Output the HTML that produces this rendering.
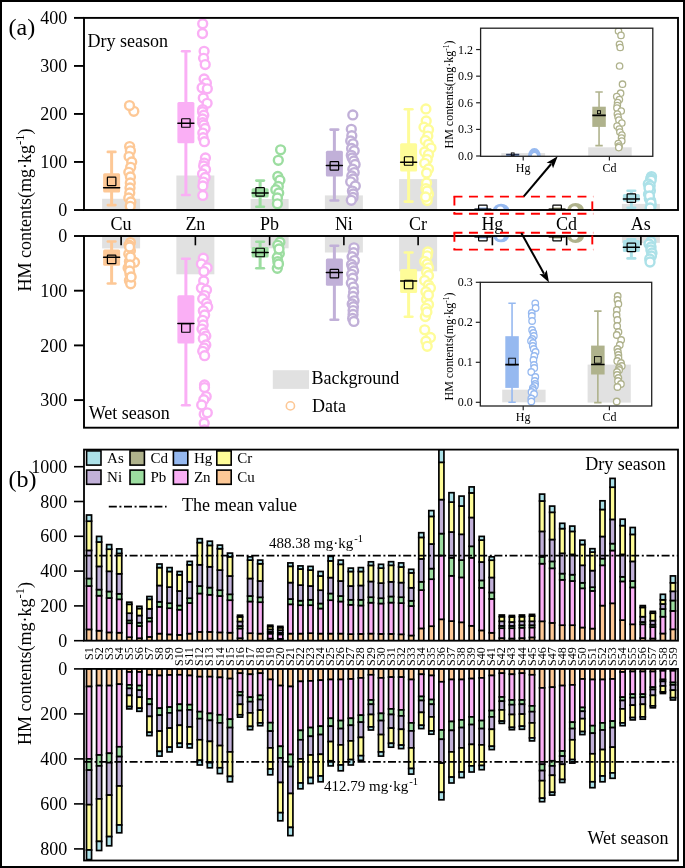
<!DOCTYPE html>
<html><head><meta charset="utf-8"><style>
html,body{margin:0;padding:0;background:#fff;}
svg{display:block;will-change:transform;}
text{font-family:"Liberation Serif",serif;fill:#000;}
</style></head><body>
<svg width="685" height="868" viewBox="0 0 685 868">
<rect width="685" height="868" fill="#fff"/>
<defs>
<clipPath id="cd"><rect x="84" y="17.9" width="594" height="192.1"/></clipPath>
<clipPath id="cw"><rect x="84" y="236.0" width="594" height="191.7"/></clipPath>
<clipPath id="ci1"><rect x="480.6" y="28.2" width="172.2" height="128.1"/></clipPath>
<clipPath id="ci2"><rect x="480.3" y="282.3" width="171.4" height="123.7"/></clipPath>
<clipPath id="cb1"><rect x="84" y="449.6" width="594" height="191.1"/></clipPath>
<clipPath id="cb2"><rect x="84" y="668.9" width="594" height="191.6"/></clipPath>
</defs>
<rect x="1" y="1" width="683" height="866" fill="none" stroke="#000" stroke-width="2"/>
<g clip-path="url(#cd)">
<rect x="102.12" y="198.80" width="38" height="11.20" fill="#E1E1E1"/>
<rect x="176.38" y="175.50" width="38" height="34.50" fill="#E1E1E1"/>
<rect x="250.62" y="199.00" width="38" height="11.00" fill="#E1E1E1"/>
<rect x="324.88" y="195.40" width="38" height="14.60" fill="#E1E1E1"/>
<rect x="399.12" y="179.10" width="38" height="30.90" fill="#E1E1E1"/>
<rect x="621.88" y="203.90" width="38" height="6.10" fill="#E1E1E1"/>
<line x1="111.62" y1="151.90" x2="111.62" y2="205.10" stroke="#FDC896" stroke-width="3"/>
<line x1="107.83" y1="151.90" x2="115.42" y2="151.90" stroke="#FDC896" stroke-width="2.6" stroke-linecap="round"/>
<line x1="107.83" y1="205.10" x2="115.42" y2="205.10" stroke="#FDC896" stroke-width="2.6" stroke-linecap="round"/>
<rect x="103.12" y="173.20" width="17" height="19.20" rx="1.5" fill="#FDC896"/>
<line x1="103.62" y1="187.80" x2="119.62" y2="187.80" stroke="#000" stroke-width="1.5" stroke-linecap="round"/>
<rect x="107.38" y="177.05" width="8.5" height="8.5" rx="0.6" fill="none" stroke="#000" stroke-width="1.2"/>
<line x1="185.88" y1="51.20" x2="185.88" y2="195.00" stroke="#FAAFF5" stroke-width="3"/>
<line x1="182.07" y1="51.20" x2="189.68" y2="51.20" stroke="#FAAFF5" stroke-width="2.6" stroke-linecap="round"/>
<line x1="182.07" y1="195.00" x2="189.68" y2="195.00" stroke="#FAAFF5" stroke-width="2.6" stroke-linecap="round"/>
<rect x="177.38" y="102.00" width="17" height="41.30" rx="1.5" fill="#FAAFF5"/>
<line x1="177.88" y1="123.20" x2="193.88" y2="123.20" stroke="#000" stroke-width="1.5" stroke-linecap="round"/>
<rect x="181.62" y="118.75" width="8.5" height="8.5" rx="0.6" fill="none" stroke="#000" stroke-width="1.2"/>
<line x1="260.12" y1="180.60" x2="260.12" y2="206.80" stroke="#9CDDA0" stroke-width="3"/>
<line x1="256.32" y1="180.60" x2="263.93" y2="180.60" stroke="#9CDDA0" stroke-width="2.6" stroke-linecap="round"/>
<line x1="256.32" y1="206.80" x2="263.93" y2="206.80" stroke="#9CDDA0" stroke-width="2.6" stroke-linecap="round"/>
<rect x="251.62" y="188.20" width="17" height="9.30" rx="1.5" fill="#9CDDA0"/>
<line x1="252.12" y1="193.10" x2="268.12" y2="193.10" stroke="#000" stroke-width="1.5" stroke-linecap="round"/>
<rect x="255.88" y="187.55" width="8.5" height="8.5" rx="0.6" fill="none" stroke="#000" stroke-width="1.2"/>
<line x1="334.38" y1="129.60" x2="334.38" y2="200.50" stroke="#C1B0D8" stroke-width="3"/>
<line x1="330.57" y1="129.60" x2="338.18" y2="129.60" stroke="#C1B0D8" stroke-width="2.6" stroke-linecap="round"/>
<line x1="330.57" y1="200.50" x2="338.18" y2="200.50" stroke="#C1B0D8" stroke-width="2.6" stroke-linecap="round"/>
<rect x="325.88" y="150.70" width="17" height="25.90" rx="1.5" fill="#C1B0D8"/>
<line x1="326.38" y1="165.40" x2="342.38" y2="165.40" stroke="#000" stroke-width="1.5" stroke-linecap="round"/>
<rect x="330.12" y="161.55" width="8.5" height="8.5" rx="0.6" fill="none" stroke="#000" stroke-width="1.2"/>
<line x1="408.62" y1="109.20" x2="408.62" y2="201.60" stroke="#FEFC98" stroke-width="3"/>
<line x1="404.82" y1="109.20" x2="412.43" y2="109.20" stroke="#FEFC98" stroke-width="2.6" stroke-linecap="round"/>
<line x1="404.82" y1="201.60" x2="412.43" y2="201.60" stroke="#FEFC98" stroke-width="2.6" stroke-linecap="round"/>
<rect x="400.12" y="143.30" width="17" height="28.20" rx="1.5" fill="#FEFC98"/>
<line x1="400.62" y1="162.30" x2="416.62" y2="162.30" stroke="#000" stroke-width="1.5" stroke-linecap="round"/>
<rect x="404.38" y="156.75" width="8.5" height="8.5" rx="0.6" fill="none" stroke="#000" stroke-width="1.2"/>
<line x1="482.88" y1="208.80" x2="482.88" y2="210.00" stroke="#96B9F0" stroke-width="3"/>
<line x1="479.07" y1="208.80" x2="486.68" y2="208.80" stroke="#96B9F0" stroke-width="2.6" stroke-linecap="round"/>
<line x1="479.07" y1="210.00" x2="486.68" y2="210.00" stroke="#96B9F0" stroke-width="2.6" stroke-linecap="round"/>
<rect x="474.38" y="208.40" width="17" height="1.60" rx="1.5" fill="#96B9F0"/>
<line x1="474.88" y1="209.20" x2="490.88" y2="209.20" stroke="#000" stroke-width="1.5" stroke-linecap="round"/>
<rect x="478.62" y="205.05" width="8.5" height="8.5" rx="0.6" fill="none" stroke="#000" stroke-width="1.2"/>
<line x1="557.12" y1="208.80" x2="557.12" y2="210.00" stroke="#AFB28C" stroke-width="3"/>
<line x1="553.33" y1="208.80" x2="560.92" y2="208.80" stroke="#AFB28C" stroke-width="2.6" stroke-linecap="round"/>
<line x1="553.33" y1="210.00" x2="560.92" y2="210.00" stroke="#AFB28C" stroke-width="2.6" stroke-linecap="round"/>
<rect x="548.62" y="208.40" width="17" height="1.60" rx="1.5" fill="#AFB28C"/>
<line x1="549.12" y1="209.20" x2="565.12" y2="209.20" stroke="#000" stroke-width="1.5" stroke-linecap="round"/>
<rect x="552.88" y="205.05" width="8.5" height="8.5" rx="0.6" fill="none" stroke="#000" stroke-width="1.2"/>
<line x1="631.38" y1="190.70" x2="631.38" y2="207.70" stroke="#ACE1E8" stroke-width="3"/>
<line x1="627.58" y1="190.70" x2="635.17" y2="190.70" stroke="#ACE1E8" stroke-width="2.6" stroke-linecap="round"/>
<line x1="627.58" y1="207.70" x2="635.17" y2="207.70" stroke="#ACE1E8" stroke-width="2.6" stroke-linecap="round"/>
<rect x="622.88" y="193.90" width="17" height="7.60" rx="1.5" fill="#ACE1E8"/>
<line x1="623.38" y1="199.10" x2="639.38" y2="199.10" stroke="#000" stroke-width="1.5" stroke-linecap="round"/>
<rect x="627.12" y="193.95" width="8.5" height="8.5" rx="0.6" fill="none" stroke="#000" stroke-width="1.2"/>
<ellipse cx="500.35" cy="210.0" rx="3.40" ry="3.60" fill="#fff"/>
<path d="M493.10,210.0 a8.0,6.3 0 1,0 16.0,0 a8.0,6.3 0 1,0 -16.0,0 Z M496.95,210.0 a3.4,3.6 0 1,0 6.8,0 a3.4,3.6 0 1,0 -6.8,0 Z" fill="#96B9F0" fill-rule="evenodd"/>
<ellipse cx="574.55" cy="210.0" rx="3.50" ry="3.70" fill="#fff"/>
<path d="M567.20,210.0 a8.4,7.0 0 1,0 16.8,0 a8.4,7.0 0 1,0 -16.8,0 Z M571.05,210.0 a3.5,3.7 0 1,0 7.0,0 a3.5,3.7 0 1,0 -7.0,0 Z" fill="#AFB28C" fill-rule="evenodd"/>
<circle cx="133.80" cy="111.30" r="4.45" fill="#fff" stroke="#FDC896" stroke-width="2.4"/>
<circle cx="129.50" cy="105.60" r="4.45" fill="#fff" stroke="#FDC896" stroke-width="2.4"/>
<circle cx="129.64" cy="146.60" r="4.45" fill="#fff" stroke="#FDC896" stroke-width="2.4"/>
<circle cx="130.40" cy="150.80" r="4.45" fill="#fff" stroke="#FDC896" stroke-width="2.4"/>
<circle cx="129.08" cy="156.60" r="4.45" fill="#fff" stroke="#FDC896" stroke-width="2.4"/>
<circle cx="131.70" cy="162.00" r="4.45" fill="#fff" stroke="#FDC896" stroke-width="2.4"/>
<circle cx="130.68" cy="167.30" r="4.45" fill="#fff" stroke="#FDC896" stroke-width="2.4"/>
<circle cx="128.83" cy="172.30" r="4.45" fill="#fff" stroke="#FDC896" stroke-width="2.4"/>
<circle cx="130.40" cy="176.90" r="4.45" fill="#fff" stroke="#FDC896" stroke-width="2.4"/>
<circle cx="130.31" cy="183.00" r="4.45" fill="#fff" stroke="#FDC896" stroke-width="2.4"/>
<circle cx="130.00" cy="188.00" r="4.45" fill="#fff" stroke="#FDC896" stroke-width="2.4"/>
<circle cx="129.77" cy="193.00" r="4.45" fill="#fff" stroke="#FDC896" stroke-width="2.4"/>
<circle cx="128.79" cy="198.00" r="4.45" fill="#fff" stroke="#FDC896" stroke-width="2.4"/>
<circle cx="130.80" cy="202.00" r="4.45" fill="#fff" stroke="#FDC896" stroke-width="2.4"/>
<circle cx="130.22" cy="206.30" r="4.45" fill="#fff" stroke="#FDC896" stroke-width="2.4"/>
<circle cx="202.70" cy="23.70" r="4.45" fill="#fff" stroke="#FAAFF5" stroke-width="2.4"/>
<circle cx="202.50" cy="33.50" r="4.45" fill="#fff" stroke="#FAAFF5" stroke-width="2.4"/>
<circle cx="204.10" cy="51.30" r="4.45" fill="#fff" stroke="#FAAFF5" stroke-width="2.4"/>
<circle cx="203.60" cy="58.30" r="4.45" fill="#fff" stroke="#FAAFF5" stroke-width="2.4"/>
<circle cx="205.20" cy="64.60" r="4.45" fill="#fff" stroke="#FAAFF5" stroke-width="2.4"/>
<circle cx="204.10" cy="79.00" r="4.45" fill="#fff" stroke="#FAAFF5" stroke-width="2.4"/>
<circle cx="206.40" cy="83.10" r="4.45" fill="#fff" stroke="#FAAFF5" stroke-width="2.4"/>
<circle cx="202.10" cy="87.70" r="4.45" fill="#fff" stroke="#FAAFF5" stroke-width="2.4"/>
<circle cx="207.30" cy="88.80" r="4.45" fill="#fff" stroke="#FAAFF5" stroke-width="2.4"/>
<circle cx="203.30" cy="98.10" r="4.45" fill="#fff" stroke="#FAAFF5" stroke-width="2.4"/>
<circle cx="207.10" cy="103.30" r="4.45" fill="#fff" stroke="#FAAFF5" stroke-width="2.4"/>
<circle cx="202.70" cy="109.60" r="4.45" fill="#fff" stroke="#FAAFF5" stroke-width="2.4"/>
<circle cx="202.52" cy="111.70" r="4.45" fill="#fff" stroke="#FAAFF5" stroke-width="2.4"/>
<circle cx="203.79" cy="115.20" r="4.45" fill="#fff" stroke="#FAAFF5" stroke-width="2.4"/>
<circle cx="202.62" cy="119.00" r="4.45" fill="#fff" stroke="#FAAFF5" stroke-width="2.4"/>
<circle cx="202.69" cy="122.70" r="4.45" fill="#fff" stroke="#FAAFF5" stroke-width="2.4"/>
<circle cx="203.76" cy="125.00" r="4.45" fill="#fff" stroke="#FAAFF5" stroke-width="2.4"/>
<circle cx="205.05" cy="128.50" r="4.45" fill="#fff" stroke="#FAAFF5" stroke-width="2.4"/>
<circle cx="202.80" cy="133.10" r="4.45" fill="#fff" stroke="#FAAFF5" stroke-width="2.4"/>
<circle cx="203.11" cy="137.70" r="4.45" fill="#fff" stroke="#FAAFF5" stroke-width="2.4"/>
<circle cx="204.41" cy="141.70" r="4.45" fill="#fff" stroke="#FAAFF5" stroke-width="2.4"/>
<circle cx="205.43" cy="157.90" r="4.45" fill="#fff" stroke="#FAAFF5" stroke-width="2.4"/>
<circle cx="204.25" cy="163.10" r="4.45" fill="#fff" stroke="#FAAFF5" stroke-width="2.4"/>
<circle cx="203.67" cy="166.00" r="4.45" fill="#fff" stroke="#FAAFF5" stroke-width="2.4"/>
<circle cx="205.52" cy="169.40" r="4.45" fill="#fff" stroke="#FAAFF5" stroke-width="2.4"/>
<circle cx="202.55" cy="174.00" r="4.45" fill="#fff" stroke="#FAAFF5" stroke-width="2.4"/>
<circle cx="205.15" cy="177.50" r="4.45" fill="#fff" stroke="#FAAFF5" stroke-width="2.4"/>
<circle cx="203.33" cy="182.10" r="4.45" fill="#fff" stroke="#FAAFF5" stroke-width="2.4"/>
<circle cx="202.86" cy="186.00" r="4.45" fill="#fff" stroke="#FAAFF5" stroke-width="2.4"/>
<circle cx="202.78" cy="195.40" r="4.45" fill="#fff" stroke="#FAAFF5" stroke-width="2.4"/>
<circle cx="280.60" cy="149.80" r="4.45" fill="#fff" stroke="#9CDDA0" stroke-width="2.4"/>
<circle cx="278.30" cy="160.30" r="4.45" fill="#fff" stroke="#9CDDA0" stroke-width="2.4"/>
<circle cx="277.80" cy="176.50" r="4.45" fill="#fff" stroke="#9CDDA0" stroke-width="2.4"/>
<circle cx="279.90" cy="180.20" r="4.45" fill="#fff" stroke="#9CDDA0" stroke-width="2.4"/>
<circle cx="278.30" cy="186.40" r="4.45" fill="#fff" stroke="#9CDDA0" stroke-width="2.4"/>
<circle cx="275.80" cy="189.70" r="4.45" fill="#fff" stroke="#9CDDA0" stroke-width="2.4"/>
<circle cx="278.70" cy="193.00" r="4.45" fill="#fff" stroke="#9CDDA0" stroke-width="2.4"/>
<circle cx="277.40" cy="198.00" r="4.45" fill="#fff" stroke="#9CDDA0" stroke-width="2.4"/>
<circle cx="277.40" cy="203.80" r="4.45" fill="#fff" stroke="#9CDDA0" stroke-width="2.4"/>
<circle cx="352.80" cy="114.90" r="4.45" fill="#fff" stroke="#C1B0D8" stroke-width="2.4"/>
<circle cx="351.30" cy="129.30" r="4.45" fill="#fff" stroke="#C1B0D8" stroke-width="2.4"/>
<circle cx="351.80" cy="135.70" r="4.45" fill="#fff" stroke="#C1B0D8" stroke-width="2.4"/>
<circle cx="350.70" cy="140.90" r="4.45" fill="#fff" stroke="#C1B0D8" stroke-width="2.4"/>
<circle cx="353.00" cy="143.80" r="4.45" fill="#fff" stroke="#C1B0D8" stroke-width="2.4"/>
<circle cx="351.60" cy="148.40" r="4.45" fill="#fff" stroke="#C1B0D8" stroke-width="2.4"/>
<circle cx="354.20" cy="150.70" r="4.45" fill="#fff" stroke="#C1B0D8" stroke-width="2.4"/>
<circle cx="351.30" cy="155.30" r="4.45" fill="#fff" stroke="#C1B0D8" stroke-width="2.4"/>
<circle cx="352.19" cy="158.00" r="4.45" fill="#fff" stroke="#C1B0D8" stroke-width="2.4"/>
<circle cx="353.81" cy="161.00" r="4.45" fill="#fff" stroke="#C1B0D8" stroke-width="2.4"/>
<circle cx="355.10" cy="164.50" r="4.45" fill="#fff" stroke="#C1B0D8" stroke-width="2.4"/>
<circle cx="352.80" cy="169.20" r="4.45" fill="#fff" stroke="#C1B0D8" stroke-width="2.4"/>
<circle cx="354.20" cy="172.60" r="4.45" fill="#fff" stroke="#C1B0D8" stroke-width="2.4"/>
<circle cx="351.78" cy="176.00" r="4.45" fill="#fff" stroke="#C1B0D8" stroke-width="2.4"/>
<circle cx="353.06" cy="179.00" r="4.45" fill="#fff" stroke="#C1B0D8" stroke-width="2.4"/>
<circle cx="350.70" cy="181.80" r="4.45" fill="#fff" stroke="#C1B0D8" stroke-width="2.4"/>
<circle cx="355.30" cy="185.90" r="4.45" fill="#fff" stroke="#C1B0D8" stroke-width="2.4"/>
<circle cx="352.40" cy="191.10" r="4.45" fill="#fff" stroke="#C1B0D8" stroke-width="2.4"/>
<circle cx="353.24" cy="194.00" r="4.45" fill="#fff" stroke="#C1B0D8" stroke-width="2.4"/>
<circle cx="353.00" cy="197.40" r="4.45" fill="#fff" stroke="#C1B0D8" stroke-width="2.4"/>
<circle cx="351.30" cy="200.30" r="4.45" fill="#fff" stroke="#C1B0D8" stroke-width="2.4"/>
<circle cx="425.90" cy="108.90" r="4.45" fill="#fff" stroke="#FEFC98" stroke-width="2.4"/>
<circle cx="426.20" cy="120.90" r="4.45" fill="#fff" stroke="#FEFC98" stroke-width="2.4"/>
<circle cx="424.00" cy="127.20" r="4.45" fill="#fff" stroke="#FEFC98" stroke-width="2.4"/>
<circle cx="428.50" cy="129.70" r="4.45" fill="#fff" stroke="#FEFC98" stroke-width="2.4"/>
<circle cx="427.80" cy="136.10" r="4.45" fill="#fff" stroke="#FEFC98" stroke-width="2.4"/>
<circle cx="425.30" cy="140.50" r="4.45" fill="#fff" stroke="#FEFC98" stroke-width="2.4"/>
<circle cx="428.50" cy="144.30" r="4.45" fill="#fff" stroke="#FEFC98" stroke-width="2.4"/>
<circle cx="431.00" cy="148.10" r="4.45" fill="#fff" stroke="#FEFC98" stroke-width="2.4"/>
<circle cx="424.70" cy="151.90" r="4.45" fill="#fff" stroke="#FEFC98" stroke-width="2.4"/>
<circle cx="428.50" cy="154.40" r="4.45" fill="#fff" stroke="#FEFC98" stroke-width="2.4"/>
<circle cx="427.20" cy="159.50" r="4.45" fill="#fff" stroke="#FEFC98" stroke-width="2.4"/>
<circle cx="424.70" cy="163.30" r="4.45" fill="#fff" stroke="#FEFC98" stroke-width="2.4"/>
<circle cx="428.50" cy="169.00" r="4.45" fill="#fff" stroke="#FEFC98" stroke-width="2.4"/>
<circle cx="426.60" cy="182.90" r="4.45" fill="#fff" stroke="#FEFC98" stroke-width="2.4"/>
<circle cx="425.90" cy="188.60" r="4.45" fill="#fff" stroke="#FEFC98" stroke-width="2.4"/>
<circle cx="428.50" cy="194.30" r="4.45" fill="#fff" stroke="#FEFC98" stroke-width="2.4"/>
<circle cx="427.20" cy="200.60" r="4.45" fill="#fff" stroke="#FEFC98" stroke-width="2.4"/>
<circle cx="426.59" cy="173.00" r="4.45" fill="#fff" stroke="#FEFC98" stroke-width="2.4"/>
<circle cx="427.15" cy="191.00" r="4.45" fill="#fff" stroke="#FEFC98" stroke-width="2.4"/>
<circle cx="425.60" cy="197.00" r="4.45" fill="#fff" stroke="#FEFC98" stroke-width="2.4"/>
<circle cx="651.50" cy="176.60" r="4.45" fill="#fff" stroke="#ACE1E8" stroke-width="2.4"/>
<circle cx="650.70" cy="178.50" r="4.45" fill="#fff" stroke="#ACE1E8" stroke-width="2.4"/>
<circle cx="651.20" cy="180.20" r="4.45" fill="#fff" stroke="#ACE1E8" stroke-width="2.4"/>
<circle cx="648.30" cy="184.00" r="4.45" fill="#fff" stroke="#ACE1E8" stroke-width="2.4"/>
<circle cx="650.20" cy="185.80" r="4.45" fill="#fff" stroke="#ACE1E8" stroke-width="2.4"/>
<circle cx="650.40" cy="190.70" r="4.45" fill="#fff" stroke="#ACE1E8" stroke-width="2.4"/>
<circle cx="648.50" cy="194.20" r="4.45" fill="#fff" stroke="#ACE1E8" stroke-width="2.4"/>
<circle cx="649.30" cy="198.60" r="4.45" fill="#fff" stroke="#ACE1E8" stroke-width="2.4"/>
<circle cx="650.70" cy="200.70" r="4.45" fill="#fff" stroke="#ACE1E8" stroke-width="2.4"/>
<circle cx="651.20" cy="205.60" r="4.45" fill="#fff" stroke="#ACE1E8" stroke-width="2.4"/>
<circle cx="648.99" cy="188.00" r="4.45" fill="#fff" stroke="#ACE1E8" stroke-width="2.4"/>
<circle cx="649.46" cy="196.00" r="4.45" fill="#fff" stroke="#ACE1E8" stroke-width="2.4"/>
<circle cx="650.98" cy="203.00" r="4.45" fill="#fff" stroke="#ACE1E8" stroke-width="2.4"/>
<circle cx="650.17" cy="208.00" r="4.45" fill="#fff" stroke="#ACE1E8" stroke-width="2.4"/>
</g>
<g clip-path="url(#cw)">
<rect x="102.12" y="236.00" width="38" height="12.40" fill="#E1E1E1"/>
<rect x="176.38" y="236.00" width="38" height="38.30" fill="#E1E1E1"/>
<rect x="250.62" y="236.00" width="38" height="12.30" fill="#E1E1E1"/>
<rect x="324.88" y="236.00" width="38" height="16.50" fill="#E1E1E1"/>
<rect x="399.12" y="236.00" width="38" height="35.30" fill="#E1E1E1"/>
<rect x="621.88" y="236.00" width="38" height="6.90" fill="#E1E1E1"/>
<line x1="111.62" y1="241.50" x2="111.62" y2="283.50" stroke="#FDC896" stroke-width="3"/>
<line x1="107.83" y1="241.50" x2="115.42" y2="241.50" stroke="#FDC896" stroke-width="2.6" stroke-linecap="round"/>
<line x1="107.83" y1="283.50" x2="115.42" y2="283.50" stroke="#FDC896" stroke-width="2.6" stroke-linecap="round"/>
<rect x="103.12" y="249.60" width="17" height="16.10" rx="1.5" fill="#FDC896"/>
<line x1="103.62" y1="257.20" x2="119.62" y2="257.20" stroke="#000" stroke-width="1.5" stroke-linecap="round"/>
<rect x="107.38" y="255.15" width="8.5" height="8.5" rx="0.6" fill="none" stroke="#000" stroke-width="1.2"/>
<line x1="185.88" y1="258.80" x2="185.88" y2="405.20" stroke="#FAAFF5" stroke-width="3"/>
<line x1="182.07" y1="258.80" x2="189.68" y2="258.80" stroke="#FAAFF5" stroke-width="2.6" stroke-linecap="round"/>
<line x1="182.07" y1="405.20" x2="189.68" y2="405.20" stroke="#FAAFF5" stroke-width="2.6" stroke-linecap="round"/>
<rect x="177.38" y="295.20" width="17" height="48.20" rx="1.5" fill="#FAAFF5"/>
<line x1="177.88" y1="323.40" x2="193.88" y2="323.40" stroke="#000" stroke-width="1.5" stroke-linecap="round"/>
<rect x="181.62" y="323.75" width="8.5" height="8.5" rx="0.6" fill="none" stroke="#000" stroke-width="1.2"/>
<line x1="260.12" y1="241.70" x2="260.12" y2="268.30" stroke="#9CDDA0" stroke-width="3"/>
<line x1="256.32" y1="241.70" x2="263.93" y2="241.70" stroke="#9CDDA0" stroke-width="2.6" stroke-linecap="round"/>
<line x1="256.32" y1="268.30" x2="263.93" y2="268.30" stroke="#9CDDA0" stroke-width="2.6" stroke-linecap="round"/>
<rect x="251.62" y="247.10" width="17" height="10.40" rx="1.5" fill="#9CDDA0"/>
<line x1="252.12" y1="252.40" x2="268.12" y2="252.40" stroke="#000" stroke-width="1.5" stroke-linecap="round"/>
<rect x="255.88" y="248.25" width="8.5" height="8.5" rx="0.6" fill="none" stroke="#000" stroke-width="1.2"/>
<line x1="334.38" y1="245.70" x2="334.38" y2="319.70" stroke="#C1B0D8" stroke-width="3"/>
<line x1="330.57" y1="245.70" x2="338.18" y2="245.70" stroke="#C1B0D8" stroke-width="2.6" stroke-linecap="round"/>
<line x1="330.57" y1="319.70" x2="338.18" y2="319.70" stroke="#C1B0D8" stroke-width="2.6" stroke-linecap="round"/>
<rect x="325.88" y="258.60" width="17" height="27.10" rx="1.5" fill="#C1B0D8"/>
<line x1="326.38" y1="272.40" x2="342.38" y2="272.40" stroke="#000" stroke-width="1.5" stroke-linecap="round"/>
<rect x="330.12" y="269.45" width="8.5" height="8.5" rx="0.6" fill="none" stroke="#000" stroke-width="1.2"/>
<line x1="408.62" y1="252.50" x2="408.62" y2="316.80" stroke="#FEFC98" stroke-width="3"/>
<line x1="404.82" y1="252.50" x2="412.43" y2="252.50" stroke="#FEFC98" stroke-width="2.6" stroke-linecap="round"/>
<line x1="404.82" y1="316.80" x2="412.43" y2="316.80" stroke="#FEFC98" stroke-width="2.6" stroke-linecap="round"/>
<rect x="400.12" y="269.00" width="17" height="24.10" rx="1.5" fill="#FEFC98"/>
<line x1="400.62" y1="281.00" x2="416.62" y2="281.00" stroke="#000" stroke-width="1.5" stroke-linecap="round"/>
<rect x="404.38" y="280.25" width="8.5" height="8.5" rx="0.6" fill="none" stroke="#000" stroke-width="1.2"/>
<line x1="482.88" y1="236.00" x2="482.88" y2="237.20" stroke="#96B9F0" stroke-width="3"/>
<line x1="479.07" y1="236.00" x2="486.68" y2="236.00" stroke="#96B9F0" stroke-width="2.6" stroke-linecap="round"/>
<line x1="479.07" y1="237.20" x2="486.68" y2="237.20" stroke="#96B9F0" stroke-width="2.6" stroke-linecap="round"/>
<rect x="474.38" y="236.00" width="17" height="1.60" rx="1.5" fill="#96B9F0"/>
<line x1="474.88" y1="236.80" x2="490.88" y2="236.80" stroke="#000" stroke-width="1.5" stroke-linecap="round"/>
<rect x="478.62" y="232.45" width="8.5" height="8.5" rx="0.6" fill="none" stroke="#000" stroke-width="1.2"/>
<line x1="557.12" y1="236.00" x2="557.12" y2="237.20" stroke="#AFB28C" stroke-width="3"/>
<line x1="553.33" y1="236.00" x2="560.92" y2="236.00" stroke="#AFB28C" stroke-width="2.6" stroke-linecap="round"/>
<line x1="553.33" y1="237.20" x2="560.92" y2="237.20" stroke="#AFB28C" stroke-width="2.6" stroke-linecap="round"/>
<rect x="548.62" y="236.00" width="17" height="1.60" rx="1.5" fill="#AFB28C"/>
<line x1="549.12" y1="236.80" x2="565.12" y2="236.80" stroke="#000" stroke-width="1.5" stroke-linecap="round"/>
<rect x="552.88" y="232.45" width="8.5" height="8.5" rx="0.6" fill="none" stroke="#000" stroke-width="1.2"/>
<line x1="631.38" y1="239.40" x2="631.38" y2="258.40" stroke="#ACE1E8" stroke-width="3"/>
<line x1="627.58" y1="239.40" x2="635.17" y2="239.40" stroke="#ACE1E8" stroke-width="2.6" stroke-linecap="round"/>
<line x1="627.58" y1="258.40" x2="635.17" y2="258.40" stroke="#ACE1E8" stroke-width="2.6" stroke-linecap="round"/>
<rect x="622.88" y="240.10" width="17" height="11.80" rx="1.5" fill="#ACE1E8"/>
<line x1="623.38" y1="247.30" x2="639.38" y2="247.30" stroke="#000" stroke-width="1.5" stroke-linecap="round"/>
<rect x="627.12" y="243.15" width="8.5" height="8.5" rx="0.6" fill="none" stroke="#000" stroke-width="1.2"/>
<ellipse cx="500.35" cy="236.0" rx="3.40" ry="3.60" fill="#fff"/>
<path d="M493.10,236.0 a8.0,6.3 0 1,0 16.0,0 a8.0,6.3 0 1,0 -16.0,0 Z M496.95,236.0 a3.4,3.6 0 1,0 6.8,0 a3.4,3.6 0 1,0 -6.8,0 Z" fill="#96B9F0" fill-rule="evenodd"/>
<ellipse cx="574.55" cy="236.0" rx="3.50" ry="3.70" fill="#fff"/>
<path d="M567.20,236.0 a8.4,7.0 0 1,0 16.8,0 a8.4,7.0 0 1,0 -16.8,0 Z M571.05,236.0 a3.5,3.7 0 1,0 7.0,0 a3.5,3.7 0 1,0 -7.0,0 Z" fill="#AFB28C" fill-rule="evenodd"/>
<circle cx="130.40" cy="242.60" r="4.45" fill="#fff" stroke="#FDC896" stroke-width="2.4"/>
<circle cx="129.10" cy="245.10" r="4.45" fill="#fff" stroke="#FDC896" stroke-width="2.4"/>
<circle cx="130.40" cy="250.80" r="4.45" fill="#fff" stroke="#FDC896" stroke-width="2.4"/>
<circle cx="128.80" cy="254.00" r="4.45" fill="#fff" stroke="#FDC896" stroke-width="2.4"/>
<circle cx="129.40" cy="261.60" r="4.45" fill="#fff" stroke="#FDC896" stroke-width="2.4"/>
<circle cx="134.50" cy="262.20" r="4.45" fill="#fff" stroke="#FDC896" stroke-width="2.4"/>
<circle cx="128.10" cy="268.00" r="4.45" fill="#fff" stroke="#FDC896" stroke-width="2.4"/>
<circle cx="130.00" cy="274.30" r="4.45" fill="#fff" stroke="#FDC896" stroke-width="2.4"/>
<circle cx="129.40" cy="280.60" r="4.45" fill="#fff" stroke="#FDC896" stroke-width="2.4"/>
<circle cx="130.70" cy="283.80" r="4.45" fill="#fff" stroke="#FDC896" stroke-width="2.4"/>
<circle cx="129.61" cy="247.00" r="4.45" fill="#fff" stroke="#FDC896" stroke-width="2.4"/>
<circle cx="130.47" cy="257.00" r="4.45" fill="#fff" stroke="#FDC896" stroke-width="2.4"/>
<circle cx="130.05" cy="265.00" r="4.45" fill="#fff" stroke="#FDC896" stroke-width="2.4"/>
<circle cx="129.56" cy="271.00" r="4.45" fill="#fff" stroke="#FDC896" stroke-width="2.4"/>
<circle cx="131.14" cy="277.00" r="4.45" fill="#fff" stroke="#FDC896" stroke-width="2.4"/>
<circle cx="203.30" cy="258.20" r="4.45" fill="#fff" stroke="#FAAFF5" stroke-width="2.4"/>
<circle cx="201.40" cy="263.90" r="4.45" fill="#fff" stroke="#FAAFF5" stroke-width="2.4"/>
<circle cx="207.10" cy="267.70" r="4.45" fill="#fff" stroke="#FAAFF5" stroke-width="2.4"/>
<circle cx="203.90" cy="271.50" r="4.45" fill="#fff" stroke="#FAAFF5" stroke-width="2.4"/>
<circle cx="203.70" cy="281.00" r="4.45" fill="#fff" stroke="#FAAFF5" stroke-width="2.4"/>
<circle cx="201.40" cy="288.00" r="4.45" fill="#fff" stroke="#FAAFF5" stroke-width="2.4"/>
<circle cx="206.50" cy="289.90" r="4.45" fill="#fff" stroke="#FAAFF5" stroke-width="2.4"/>
<circle cx="204.60" cy="295.60" r="4.45" fill="#fff" stroke="#FAAFF5" stroke-width="2.4"/>
<circle cx="202.70" cy="298.70" r="4.45" fill="#fff" stroke="#FAAFF5" stroke-width="2.4"/>
<circle cx="206.50" cy="303.20" r="4.45" fill="#fff" stroke="#FAAFF5" stroke-width="2.4"/>
<circle cx="207.70" cy="307.00" r="4.45" fill="#fff" stroke="#FAAFF5" stroke-width="2.4"/>
<circle cx="203.30" cy="310.80" r="4.45" fill="#fff" stroke="#FAAFF5" stroke-width="2.4"/>
<circle cx="204.64" cy="315.00" r="4.45" fill="#fff" stroke="#FAAFF5" stroke-width="2.4"/>
<circle cx="202.70" cy="320.30" r="4.45" fill="#fff" stroke="#FAAFF5" stroke-width="2.4"/>
<circle cx="203.18" cy="325.00" r="4.45" fill="#fff" stroke="#FAAFF5" stroke-width="2.4"/>
<circle cx="202.00" cy="329.10" r="4.45" fill="#fff" stroke="#FAAFF5" stroke-width="2.4"/>
<circle cx="204.24" cy="333.00" r="4.45" fill="#fff" stroke="#FAAFF5" stroke-width="2.4"/>
<circle cx="205.80" cy="336.10" r="4.45" fill="#fff" stroke="#FAAFF5" stroke-width="2.4"/>
<circle cx="203.30" cy="338.60" r="4.45" fill="#fff" stroke="#FAAFF5" stroke-width="2.4"/>
<circle cx="205.80" cy="344.90" r="4.45" fill="#fff" stroke="#FAAFF5" stroke-width="2.4"/>
<circle cx="204.08" cy="348.00" r="4.45" fill="#fff" stroke="#FAAFF5" stroke-width="2.4"/>
<circle cx="202.70" cy="351.30" r="4.45" fill="#fff" stroke="#FAAFF5" stroke-width="2.4"/>
<circle cx="204.60" cy="355.70" r="4.45" fill="#fff" stroke="#FAAFF5" stroke-width="2.4"/>
<circle cx="204.50" cy="384.90" r="4.45" fill="#fff" stroke="#FAAFF5" stroke-width="2.4"/>
<circle cx="204.50" cy="387.60" r="4.45" fill="#fff" stroke="#FAAFF5" stroke-width="2.4"/>
<circle cx="206.20" cy="396.60" r="4.45" fill="#fff" stroke="#FAAFF5" stroke-width="2.4"/>
<circle cx="203.80" cy="399.70" r="4.45" fill="#fff" stroke="#FAAFF5" stroke-width="2.4"/>
<circle cx="201.70" cy="404.90" r="4.45" fill="#fff" stroke="#FAAFF5" stroke-width="2.4"/>
<circle cx="204.20" cy="414.20" r="4.45" fill="#fff" stroke="#FAAFF5" stroke-width="2.4"/>
<circle cx="207.30" cy="412.80" r="4.45" fill="#fff" stroke="#FAAFF5" stroke-width="2.4"/>
<circle cx="204.20" cy="423.20" r="4.45" fill="#fff" stroke="#FAAFF5" stroke-width="2.4"/>
<circle cx="204.50" cy="430.00" r="4.45" fill="#fff" stroke="#FAAFF5" stroke-width="2.4"/>
<circle cx="279.90" cy="242.20" r="4.45" fill="#fff" stroke="#9CDDA0" stroke-width="2.4"/>
<circle cx="277.80" cy="245.30" r="4.45" fill="#fff" stroke="#9CDDA0" stroke-width="2.4"/>
<circle cx="279.30" cy="253.50" r="4.45" fill="#fff" stroke="#9CDDA0" stroke-width="2.4"/>
<circle cx="277.30" cy="257.50" r="4.45" fill="#fff" stroke="#9CDDA0" stroke-width="2.4"/>
<circle cx="277.80" cy="261.60" r="4.45" fill="#fff" stroke="#9CDDA0" stroke-width="2.4"/>
<circle cx="277.30" cy="268.30" r="4.45" fill="#fff" stroke="#9CDDA0" stroke-width="2.4"/>
<circle cx="279.00" cy="249.00" r="4.45" fill="#fff" stroke="#9CDDA0" stroke-width="2.4"/>
<circle cx="278.50" cy="264.00" r="4.45" fill="#fff" stroke="#9CDDA0" stroke-width="2.4"/>
<circle cx="354.00" cy="247.80" r="4.45" fill="#fff" stroke="#C1B0D8" stroke-width="2.4"/>
<circle cx="353.53" cy="252.70" r="4.45" fill="#fff" stroke="#C1B0D8" stroke-width="2.4"/>
<circle cx="352.12" cy="256.70" r="4.45" fill="#fff" stroke="#C1B0D8" stroke-width="2.4"/>
<circle cx="354.34" cy="260.60" r="4.45" fill="#fff" stroke="#C1B0D8" stroke-width="2.4"/>
<circle cx="351.58" cy="264.50" r="4.45" fill="#fff" stroke="#C1B0D8" stroke-width="2.4"/>
<circle cx="352.54" cy="267.50" r="4.45" fill="#fff" stroke="#C1B0D8" stroke-width="2.4"/>
<circle cx="353.62" cy="271.00" r="4.45" fill="#fff" stroke="#C1B0D8" stroke-width="2.4"/>
<circle cx="351.69" cy="274.30" r="4.45" fill="#fff" stroke="#C1B0D8" stroke-width="2.4"/>
<circle cx="352.76" cy="278.20" r="4.45" fill="#fff" stroke="#C1B0D8" stroke-width="2.4"/>
<circle cx="351.33" cy="283.10" r="4.45" fill="#fff" stroke="#C1B0D8" stroke-width="2.4"/>
<circle cx="353.34" cy="287.10" r="4.45" fill="#fff" stroke="#C1B0D8" stroke-width="2.4"/>
<circle cx="353.65" cy="292.00" r="4.45" fill="#fff" stroke="#C1B0D8" stroke-width="2.4"/>
<circle cx="353.03" cy="296.40" r="4.45" fill="#fff" stroke="#C1B0D8" stroke-width="2.4"/>
<circle cx="354.00" cy="300.80" r="4.45" fill="#fff" stroke="#C1B0D8" stroke-width="2.4"/>
<circle cx="352.20" cy="304.00" r="4.45" fill="#fff" stroke="#C1B0D8" stroke-width="2.4"/>
<circle cx="353.42" cy="306.70" r="4.45" fill="#fff" stroke="#C1B0D8" stroke-width="2.4"/>
<circle cx="353.10" cy="310.60" r="4.45" fill="#fff" stroke="#C1B0D8" stroke-width="2.4"/>
<circle cx="353.06" cy="314.50" r="4.45" fill="#fff" stroke="#C1B0D8" stroke-width="2.4"/>
<circle cx="352.66" cy="318.40" r="4.45" fill="#fff" stroke="#C1B0D8" stroke-width="2.4"/>
<circle cx="353.89" cy="321.40" r="4.45" fill="#fff" stroke="#C1B0D8" stroke-width="2.4"/>
<circle cx="427.80" cy="252.00" r="4.45" fill="#fff" stroke="#FEFC98" stroke-width="2.4"/>
<circle cx="427.20" cy="255.80" r="4.45" fill="#fff" stroke="#FEFC98" stroke-width="2.4"/>
<circle cx="424.70" cy="261.50" r="4.45" fill="#fff" stroke="#FEFC98" stroke-width="2.4"/>
<circle cx="427.20" cy="264.00" r="4.45" fill="#fff" stroke="#FEFC98" stroke-width="2.4"/>
<circle cx="428.50" cy="267.80" r="4.45" fill="#fff" stroke="#FEFC98" stroke-width="2.4"/>
<circle cx="426.60" cy="272.20" r="4.45" fill="#fff" stroke="#FEFC98" stroke-width="2.4"/>
<circle cx="428.50" cy="275.40" r="4.45" fill="#fff" stroke="#FEFC98" stroke-width="2.4"/>
<circle cx="424.70" cy="280.40" r="4.45" fill="#fff" stroke="#FEFC98" stroke-width="2.4"/>
<circle cx="428.50" cy="284.90" r="4.45" fill="#fff" stroke="#FEFC98" stroke-width="2.4"/>
<circle cx="430.40" cy="288.00" r="4.45" fill="#fff" stroke="#FEFC98" stroke-width="2.4"/>
<circle cx="425.90" cy="291.80" r="4.45" fill="#fff" stroke="#FEFC98" stroke-width="2.4"/>
<circle cx="426.60" cy="299.40" r="4.45" fill="#fff" stroke="#FEFC98" stroke-width="2.4"/>
<circle cx="428.50" cy="304.50" r="4.45" fill="#fff" stroke="#FEFC98" stroke-width="2.4"/>
<circle cx="425.90" cy="308.30" r="4.45" fill="#fff" stroke="#FEFC98" stroke-width="2.4"/>
<circle cx="425.30" cy="316.50" r="4.45" fill="#fff" stroke="#FEFC98" stroke-width="2.4"/>
<circle cx="424.70" cy="329.80" r="4.45" fill="#fff" stroke="#FEFC98" stroke-width="2.4"/>
<circle cx="430.40" cy="337.40" r="4.45" fill="#fff" stroke="#FEFC98" stroke-width="2.4"/>
<circle cx="425.90" cy="341.20" r="4.45" fill="#fff" stroke="#FEFC98" stroke-width="2.4"/>
<circle cx="427.20" cy="346.30" r="4.45" fill="#fff" stroke="#FEFC98" stroke-width="2.4"/>
<circle cx="428.42" cy="295.00" r="4.45" fill="#fff" stroke="#FEFC98" stroke-width="2.4"/>
<circle cx="426.92" cy="312.00" r="4.45" fill="#fff" stroke="#FEFC98" stroke-width="2.4"/>
<circle cx="650.93" cy="241.50" r="4.45" fill="#fff" stroke="#ACE1E8" stroke-width="2.4"/>
<circle cx="648.99" cy="244.00" r="4.45" fill="#fff" stroke="#ACE1E8" stroke-width="2.4"/>
<circle cx="651.04" cy="247.00" r="4.45" fill="#fff" stroke="#ACE1E8" stroke-width="2.4"/>
<circle cx="650.87" cy="250.00" r="4.45" fill="#fff" stroke="#ACE1E8" stroke-width="2.4"/>
<circle cx="651.98" cy="253.00" r="4.45" fill="#fff" stroke="#ACE1E8" stroke-width="2.4"/>
<circle cx="651.43" cy="256.00" r="4.45" fill="#fff" stroke="#ACE1E8" stroke-width="2.4"/>
<circle cx="649.71" cy="259.00" r="4.45" fill="#fff" stroke="#ACE1E8" stroke-width="2.4"/>
<circle cx="650.03" cy="262.00" r="4.45" fill="#fff" stroke="#ACE1E8" stroke-width="2.4"/>
</g>
<rect x="84" y="17.9" width="594" height="192.1" fill="none" stroke="#000" stroke-width="1.9"/>
<rect x="84" y="236.0" width="594" height="191.7" fill="none" stroke="#000" stroke-width="1.9"/>
<line x1="74" y1="210.00" x2="84" y2="210.00" stroke="#000" stroke-width="1.9"/>
<text x="67.30" y="216.10" font-size="18" text-anchor="end" >0</text>
<line x1="74" y1="161.97" x2="84" y2="161.97" stroke="#000" stroke-width="1.9"/>
<text x="67.30" y="168.07" font-size="18" text-anchor="end" >100</text>
<line x1="74" y1="113.95" x2="84" y2="113.95" stroke="#000" stroke-width="1.9"/>
<text x="67.30" y="120.05" font-size="18" text-anchor="end" >200</text>
<line x1="74" y1="65.93" x2="84" y2="65.93" stroke="#000" stroke-width="1.9"/>
<text x="67.30" y="72.03" font-size="18" text-anchor="end" >300</text>
<line x1="74" y1="17.90" x2="84" y2="17.90" stroke="#000" stroke-width="1.9"/>
<text x="67.30" y="24.00" font-size="18" text-anchor="end" >400</text>
<line x1="74" y1="236.00" x2="84" y2="236.00" stroke="#000" stroke-width="1.9"/>
<text x="67.30" y="242.10" font-size="18" text-anchor="end" >0</text>
<line x1="74" y1="290.70" x2="84" y2="290.70" stroke="#000" stroke-width="1.9"/>
<text x="67.30" y="296.80" font-size="18" text-anchor="end" >100</text>
<line x1="74" y1="345.40" x2="84" y2="345.40" stroke="#000" stroke-width="1.9"/>
<text x="67.30" y="351.50" font-size="18" text-anchor="end" >200</text>
<line x1="74" y1="400.10" x2="84" y2="400.10" stroke="#000" stroke-width="1.9"/>
<text x="67.30" y="406.20" font-size="18" text-anchor="end" >300</text>
<line x1="121.12" y1="236.0" x2="121.12" y2="245.3" stroke="#000" stroke-width="1.6"/>
<line x1="195.38" y1="236.0" x2="195.38" y2="245.3" stroke="#000" stroke-width="1.6"/>
<line x1="269.62" y1="236.0" x2="269.62" y2="245.3" stroke="#000" stroke-width="1.6"/>
<line x1="343.88" y1="236.0" x2="343.88" y2="245.3" stroke="#000" stroke-width="1.6"/>
<line x1="418.12" y1="236.0" x2="418.12" y2="245.3" stroke="#000" stroke-width="1.6"/>
<line x1="492.38" y1="236.0" x2="492.38" y2="245.3" stroke="#000" stroke-width="1.6"/>
<line x1="566.62" y1="236.0" x2="566.62" y2="245.3" stroke="#000" stroke-width="1.6"/>
<line x1="640.88" y1="236.0" x2="640.88" y2="245.3" stroke="#000" stroke-width="1.6"/>
<text x="121.12" y="229.80" font-size="18" text-anchor="middle" >Cu</text>
<text x="195.38" y="229.80" font-size="18" text-anchor="middle" >Zn</text>
<text x="269.62" y="229.80" font-size="18" text-anchor="middle" >Pb</text>
<text x="343.88" y="229.80" font-size="18" text-anchor="middle" >Ni</text>
<text x="418.12" y="229.80" font-size="18" text-anchor="middle" >Cr</text>
<text x="492.38" y="229.80" font-size="18" text-anchor="middle" >Hg</text>
<text x="566.62" y="229.80" font-size="18" text-anchor="middle" >Cd</text>
<text x="640.88" y="229.80" font-size="18" text-anchor="middle" >As</text>
<text x="8.60" y="34.90" font-size="24" text-anchor="start" >(a)</text>
<text x="87.60" y="46.90" font-size="18" text-anchor="start" >Dry season</text>
<text x="88.70" y="418.60" font-size="18" text-anchor="start" >Wet season</text>
<text transform="translate(31.2,291.5) rotate(-90)" font-size="18">HM contents(mg·kg<tspan font-size="12.5" dy="-7">-1</tspan><tspan dy="7">)</tspan></text>
<rect x="272.8" y="370.2" width="36.2" height="18.7" fill="#E1E1E1"/>
<text x="311.40" y="384.20" font-size="18" text-anchor="start" >Background</text>
<circle cx="290.4" cy="405.9" r="4.1" fill="none" stroke="#FDC896" stroke-width="1.6"/>
<text x="311.90" y="412.20" font-size="18" text-anchor="start" >Data</text>
<rect x="480.60" y="28.20" width="172.20" height="128.10" fill="#fff"/>
<g clip-path="url(#ci1)">
<rect x="501.3" y="153.1" width="43.8" height="3.5" fill="#E1E1E1"/>
<rect x="588.2" y="147.3" width="43.5" height="9.3" fill="#E1E1E1"/>
<rect x="506.2" y="153.8" width="13" height="2.4" fill="#6F8CC0"/>
<line x1="506.2" y1="154.4" x2="519.2" y2="154.4" stroke="#2a3550" stroke-width="1"/>
<rect x="511.3" y="152.9" width="2.8" height="2.8" fill="none" stroke="#000" stroke-width="0.9"/>
<line x1="599.05" y1="92.00" x2="599.05" y2="145.60" stroke="#AFB28C" stroke-width="1.6"/>
<line x1="595.35" y1="92.00" x2="602.75" y2="92.00" stroke="#AFB28C" stroke-width="1.6"/>
<line x1="595.35" y1="145.60" x2="602.75" y2="145.60" stroke="#AFB28C" stroke-width="1.6"/>
<rect x="592.30" y="106.70" width="13.5" height="20.20" fill="#AFB28C"/>
<line x1="592.30" y1="115.30" x2="605.80" y2="115.30" stroke="#000" stroke-width="1.7"/>
<rect x="597.55" y="110.70" width="3.0" height="3.0" fill="none" stroke="#000" stroke-width="0.9"/>
<ellipse cx="534.45" cy="156.6" rx="2.9" ry="3.7" fill="#fff"/>
<path d="M527.9,156.3 a6.5,8.3 0 1,0 13,0 a6.5,8.3 0 1,0 -13,0 Z M531.8,156.6 a2.65,3.5 0 1,0 5.3,0 a2.65,3.5 0 1,0 -5.3,0 Z" fill="#96B9F0" fill-rule="evenodd"/>
<circle cx="618.50" cy="31.00" r="3.2" fill="#fff" stroke="#AFB28C" stroke-width="1.3"/>
<circle cx="621.00" cy="35.40" r="3.2" fill="#fff" stroke="#AFB28C" stroke-width="1.3"/>
<circle cx="619.50" cy="44.30" r="3.2" fill="#fff" stroke="#AFB28C" stroke-width="1.3"/>
<circle cx="620.20" cy="47.50" r="3.2" fill="#fff" stroke="#AFB28C" stroke-width="1.3"/>
<circle cx="619.60" cy="66.00" r="3.2" fill="#fff" stroke="#AFB28C" stroke-width="1.3"/>
<circle cx="622.50" cy="84.20" r="3.2" fill="#fff" stroke="#AFB28C" stroke-width="1.3"/>
<circle cx="620.61" cy="93.20" r="3.2" fill="#fff" stroke="#AFB28C" stroke-width="1.3"/>
<circle cx="616.74" cy="96.50" r="3.2" fill="#fff" stroke="#AFB28C" stroke-width="1.3"/>
<circle cx="619.37" cy="99.50" r="3.2" fill="#fff" stroke="#AFB28C" stroke-width="1.3"/>
<circle cx="617.61" cy="102.50" r="3.2" fill="#fff" stroke="#AFB28C" stroke-width="1.3"/>
<circle cx="617.30" cy="105.50" r="3.2" fill="#fff" stroke="#AFB28C" stroke-width="1.3"/>
<circle cx="616.95" cy="108.00" r="3.2" fill="#fff" stroke="#AFB28C" stroke-width="1.3"/>
<circle cx="621.21" cy="111.00" r="3.2" fill="#fff" stroke="#AFB28C" stroke-width="1.3"/>
<circle cx="617.38" cy="114.00" r="3.2" fill="#fff" stroke="#AFB28C" stroke-width="1.3"/>
<circle cx="618.09" cy="117.00" r="3.2" fill="#fff" stroke="#AFB28C" stroke-width="1.3"/>
<circle cx="618.95" cy="120.00" r="3.2" fill="#fff" stroke="#AFB28C" stroke-width="1.3"/>
<circle cx="621.83" cy="123.00" r="3.2" fill="#fff" stroke="#AFB28C" stroke-width="1.3"/>
<circle cx="617.08" cy="126.00" r="3.2" fill="#fff" stroke="#AFB28C" stroke-width="1.3"/>
<circle cx="619.30" cy="129.00" r="3.2" fill="#fff" stroke="#AFB28C" stroke-width="1.3"/>
<circle cx="619.90" cy="132.00" r="3.2" fill="#fff" stroke="#AFB28C" stroke-width="1.3"/>
<circle cx="621.90" cy="135.00" r="3.2" fill="#fff" stroke="#AFB28C" stroke-width="1.3"/>
<circle cx="621.52" cy="138.00" r="3.2" fill="#fff" stroke="#AFB28C" stroke-width="1.3"/>
<circle cx="621.78" cy="141.00" r="3.2" fill="#fff" stroke="#AFB28C" stroke-width="1.3"/>
<circle cx="618.27" cy="143.50" r="3.2" fill="#fff" stroke="#AFB28C" stroke-width="1.3"/>
<circle cx="619.09" cy="146.00" r="3.2" fill="#fff" stroke="#AFB28C" stroke-width="1.3"/>
<circle cx="618.75" cy="147.60" r="3.2" fill="#fff" stroke="#AFB28C" stroke-width="1.3"/>
</g>
<rect x="480.60" y="28.20" width="172.20" height="128.10" fill="none" stroke="#222" stroke-width="1.3"/>
<line x1="476.10" y1="156.00" x2="480.60" y2="156.00" stroke="#222" stroke-width="1.2"/>
<text x="473.10" y="160.10" font-size="12" text-anchor="end" >0.0</text>
<line x1="476.10" y1="129.39" x2="480.60" y2="129.39" stroke="#222" stroke-width="1.2"/>
<text x="473.10" y="133.49" font-size="12" text-anchor="end" >0.3</text>
<line x1="476.10" y1="102.78" x2="480.60" y2="102.78" stroke="#222" stroke-width="1.2"/>
<text x="473.10" y="106.88" font-size="12" text-anchor="end" >0.6</text>
<line x1="476.10" y1="76.17" x2="480.60" y2="76.17" stroke="#222" stroke-width="1.2"/>
<text x="473.10" y="80.27" font-size="12" text-anchor="end" >0.9</text>
<line x1="476.10" y1="49.56" x2="480.60" y2="49.56" stroke="#222" stroke-width="1.2"/>
<text x="473.10" y="53.66" font-size="12" text-anchor="end" >1.2</text>
<line x1="523.2" y1="156.30" x2="523.2" y2="160.60" stroke="#222" stroke-width="1.2"/>
<text x="523.20" y="171.60" font-size="12" text-anchor="middle" >Hg</text>
<line x1="609.4" y1="156.30" x2="609.4" y2="160.60" stroke="#222" stroke-width="1.2"/>
<text x="609.40" y="171.60" font-size="12" text-anchor="middle" >Cd</text>
<text transform="translate(453,148.50) rotate(-90)" font-size="12">HM contents(mg·kg<tspan font-size="7.5" dy="-4.5">-1</tspan><tspan dy="4.5">)</tspan></text>
<rect x="480.30" y="282.30" width="171.40" height="123.70" fill="#fff"/>
<g clip-path="url(#ci2)">
<rect x="502.2" y="389.7" width="43.4" height="12.6" fill="#E1E1E1"/>
<rect x="587.6" y="364.6" width="43.2" height="38" fill="#E1E1E1"/>
<line x1="512.05" y1="303.30" x2="512.05" y2="402.30" stroke="#96B9F0" stroke-width="1.6"/>
<line x1="508.35" y1="303.30" x2="515.75" y2="303.30" stroke="#96B9F0" stroke-width="1.6"/>
<line x1="508.35" y1="402.30" x2="515.75" y2="402.30" stroke="#96B9F0" stroke-width="1.6"/>
<rect x="505.30" y="336.20" width="13.5" height="51.70" fill="#96B9F0"/>
<line x1="505.30" y1="364.60" x2="518.80" y2="364.60" stroke="#000" stroke-width="1.7"/>
<rect x="508.75" y="358.20" width="6.6" height="6.6" fill="none" stroke="#000" stroke-width="0.9"/>
<line x1="597.85" y1="311.10" x2="597.85" y2="402.60" stroke="#AFB28C" stroke-width="1.6"/>
<line x1="594.15" y1="311.10" x2="601.55" y2="311.10" stroke="#AFB28C" stroke-width="1.6"/>
<line x1="594.15" y1="402.60" x2="601.55" y2="402.60" stroke="#AFB28C" stroke-width="1.6"/>
<rect x="591.10" y="345.60" width="13.5" height="28.90" fill="#AFB28C"/>
<line x1="591.10" y1="364.50" x2="604.60" y2="364.50" stroke="#000" stroke-width="1.7"/>
<rect x="594.55" y="356.60" width="6.6" height="6.6" fill="none" stroke="#000" stroke-width="0.9"/>
<circle cx="535.24" cy="303.3" r="3.25" fill="#fff" stroke="#96B9F0" stroke-width="1.3"/>
<circle cx="535.60" cy="308" r="3.25" fill="#fff" stroke="#96B9F0" stroke-width="1.3"/>
<circle cx="531.72" cy="313" r="3.25" fill="#fff" stroke="#96B9F0" stroke-width="1.3"/>
<circle cx="531.85" cy="316" r="3.25" fill="#fff" stroke="#96B9F0" stroke-width="1.3"/>
<circle cx="532.11" cy="321" r="3.25" fill="#fff" stroke="#96B9F0" stroke-width="1.3"/>
<circle cx="532.12" cy="330" r="3.25" fill="#fff" stroke="#96B9F0" stroke-width="1.3"/>
<circle cx="533.33" cy="333" r="3.25" fill="#fff" stroke="#96B9F0" stroke-width="1.3"/>
<circle cx="533.83" cy="336" r="3.25" fill="#fff" stroke="#96B9F0" stroke-width="1.3"/>
<circle cx="532.26" cy="339" r="3.25" fill="#fff" stroke="#96B9F0" stroke-width="1.3"/>
<circle cx="531.02" cy="341" r="3.25" fill="#fff" stroke="#96B9F0" stroke-width="1.3"/>
<circle cx="533.01" cy="343" r="3.25" fill="#fff" stroke="#96B9F0" stroke-width="1.3"/>
<circle cx="532.77" cy="346" r="3.25" fill="#fff" stroke="#96B9F0" stroke-width="1.3"/>
<circle cx="533.72" cy="349" r="3.25" fill="#fff" stroke="#96B9F0" stroke-width="1.3"/>
<circle cx="535.57" cy="352" r="3.25" fill="#fff" stroke="#96B9F0" stroke-width="1.3"/>
<circle cx="534.31" cy="356" r="3.25" fill="#fff" stroke="#96B9F0" stroke-width="1.3"/>
<circle cx="533.47" cy="360" r="3.25" fill="#fff" stroke="#96B9F0" stroke-width="1.3"/>
<circle cx="533.96" cy="365" r="3.25" fill="#fff" stroke="#96B9F0" stroke-width="1.3"/>
<circle cx="534.25" cy="368" r="3.25" fill="#fff" stroke="#96B9F0" stroke-width="1.3"/>
<circle cx="531.26" cy="372" r="3.25" fill="#fff" stroke="#96B9F0" stroke-width="1.3"/>
<circle cx="535.32" cy="377" r="3.25" fill="#fff" stroke="#96B9F0" stroke-width="1.3"/>
<circle cx="534.74" cy="381" r="3.25" fill="#fff" stroke="#96B9F0" stroke-width="1.3"/>
<circle cx="535.20" cy="384" r="3.25" fill="#fff" stroke="#96B9F0" stroke-width="1.3"/>
<circle cx="534.83" cy="386" r="3.25" fill="#fff" stroke="#96B9F0" stroke-width="1.3"/>
<circle cx="532.88" cy="388" r="3.25" fill="#fff" stroke="#96B9F0" stroke-width="1.3"/>
<circle cx="532.92" cy="390" r="3.25" fill="#fff" stroke="#96B9F0" stroke-width="1.3"/>
<circle cx="531.50" cy="392" r="3.25" fill="#fff" stroke="#96B9F0" stroke-width="1.3"/>
<circle cx="534.04" cy="394" r="3.25" fill="#fff" stroke="#96B9F0" stroke-width="1.3"/>
<circle cx="531.30" cy="398.5" r="3.25" fill="#fff" stroke="#96B9F0" stroke-width="1.3"/>
<circle cx="531.32" cy="401.5" r="3.25" fill="#fff" stroke="#96B9F0" stroke-width="1.3"/>
<circle cx="617.69" cy="296" r="3.25" fill="#fff" stroke="#AFB28C" stroke-width="1.3"/>
<circle cx="617.44" cy="300" r="3.25" fill="#fff" stroke="#AFB28C" stroke-width="1.3"/>
<circle cx="618.37" cy="304" r="3.25" fill="#fff" stroke="#AFB28C" stroke-width="1.3"/>
<circle cx="616.87" cy="310" r="3.25" fill="#fff" stroke="#AFB28C" stroke-width="1.3"/>
<circle cx="616.60" cy="315" r="3.25" fill="#fff" stroke="#AFB28C" stroke-width="1.3"/>
<circle cx="617.39" cy="320" r="3.25" fill="#fff" stroke="#AFB28C" stroke-width="1.3"/>
<circle cx="617.13" cy="326" r="3.25" fill="#fff" stroke="#AFB28C" stroke-width="1.3"/>
<circle cx="618.49" cy="332" r="3.25" fill="#fff" stroke="#AFB28C" stroke-width="1.3"/>
<circle cx="616.73" cy="335" r="3.25" fill="#fff" stroke="#AFB28C" stroke-width="1.3"/>
<circle cx="621.15" cy="340" r="3.25" fill="#fff" stroke="#AFB28C" stroke-width="1.3"/>
<circle cx="619.79" cy="345" r="3.25" fill="#fff" stroke="#AFB28C" stroke-width="1.3"/>
<circle cx="617.37" cy="349" r="3.25" fill="#fff" stroke="#AFB28C" stroke-width="1.3"/>
<circle cx="617.91" cy="352" r="3.25" fill="#fff" stroke="#AFB28C" stroke-width="1.3"/>
<circle cx="618.41" cy="355" r="3.25" fill="#fff" stroke="#AFB28C" stroke-width="1.3"/>
<circle cx="618.49" cy="358" r="3.25" fill="#fff" stroke="#AFB28C" stroke-width="1.3"/>
<circle cx="617.24" cy="361" r="3.25" fill="#fff" stroke="#AFB28C" stroke-width="1.3"/>
<circle cx="621.01" cy="363" r="3.25" fill="#fff" stroke="#AFB28C" stroke-width="1.3"/>
<circle cx="621.76" cy="366" r="3.25" fill="#fff" stroke="#AFB28C" stroke-width="1.3"/>
<circle cx="619.02" cy="368" r="3.25" fill="#fff" stroke="#AFB28C" stroke-width="1.3"/>
<circle cx="619.12" cy="370" r="3.25" fill="#fff" stroke="#AFB28C" stroke-width="1.3"/>
<circle cx="617.05" cy="372" r="3.25" fill="#fff" stroke="#AFB28C" stroke-width="1.3"/>
<circle cx="617.13" cy="375" r="3.25" fill="#fff" stroke="#AFB28C" stroke-width="1.3"/>
<circle cx="618.38" cy="378" r="3.25" fill="#fff" stroke="#AFB28C" stroke-width="1.3"/>
<circle cx="617.98" cy="381" r="3.25" fill="#fff" stroke="#AFB28C" stroke-width="1.3"/>
<circle cx="620.91" cy="384" r="3.25" fill="#fff" stroke="#AFB28C" stroke-width="1.3"/>
<circle cx="617.44" cy="387" r="3.25" fill="#fff" stroke="#AFB28C" stroke-width="1.3"/>
<circle cx="616.72" cy="401.5" r="3.25" fill="#fff" stroke="#AFB28C" stroke-width="1.3"/>
</g>
<rect x="480.30" y="282.30" width="171.40" height="123.70" fill="none" stroke="#222" stroke-width="1.3"/>
<line x1="475.80" y1="402.30" x2="480.30" y2="402.30" stroke="#222" stroke-width="1.2"/>
<text x="472.80" y="406.40" font-size="12" text-anchor="end" >0.0</text>
<line x1="475.80" y1="362.30" x2="480.30" y2="362.30" stroke="#222" stroke-width="1.2"/>
<text x="472.80" y="366.40" font-size="12" text-anchor="end" >0.1</text>
<line x1="475.80" y1="322.30" x2="480.30" y2="322.30" stroke="#222" stroke-width="1.2"/>
<text x="472.80" y="326.40" font-size="12" text-anchor="end" >0.2</text>
<line x1="475.80" y1="282.30" x2="480.30" y2="282.30" stroke="#222" stroke-width="1.2"/>
<text x="472.80" y="286.40" font-size="12" text-anchor="end" >0.3</text>
<line x1="523.2" y1="406.00" x2="523.2" y2="410.30" stroke="#222" stroke-width="1.2"/>
<text x="523.20" y="421.30" font-size="12" text-anchor="middle" >Hg</text>
<line x1="609.4" y1="406.00" x2="609.4" y2="410.30" stroke="#222" stroke-width="1.2"/>
<text x="609.40" y="421.30" font-size="12" text-anchor="middle" >Cd</text>
<text transform="translate(453,400.50) rotate(-90)" font-size="12">HM contents(mg·kg<tspan font-size="7.5" dy="-4.5">-1</tspan><tspan dy="4.5">)</tspan></text>
<line x1="453.45" y1="196.6" x2="593.25" y2="196.6" stroke="#FF0000" stroke-width="1.9" stroke-dasharray="9 6.5"/>
<line x1="453.45" y1="213.8" x2="593.25" y2="213.8" stroke="#FF0000" stroke-width="1.9" stroke-dasharray="9 6.5"/>
<line x1="454.4" y1="196.6" x2="454.4" y2="213.8" stroke="#FF0000" stroke-width="1.9" stroke-dasharray="9 6.5"/>
<line x1="592.3" y1="196.6" x2="592.3" y2="213.8" stroke="#FF0000" stroke-width="1.9" stroke-dasharray="9 6.5" stroke-dashoffset="10.7"/>
<line x1="453.45" y1="232.7" x2="593.25" y2="232.7" stroke="#FF0000" stroke-width="1.9" stroke-dasharray="9 6.5"/>
<line x1="453.45" y1="249.6" x2="593.25" y2="249.6" stroke="#FF0000" stroke-width="1.9" stroke-dasharray="9 6.5"/>
<line x1="454.4" y1="232.7" x2="454.4" y2="249.6" stroke="#FF0000" stroke-width="1.9" stroke-dasharray="9 6.5"/>
<line x1="592.3" y1="232.7" x2="592.3" y2="249.6" stroke="#FF0000" stroke-width="1.9" stroke-dasharray="9 6.5" stroke-dashoffset="12.8"/>
<line x1="523.8" y1="196.4" x2="551.12" y2="164.00" stroke="#000" stroke-width="2"/>
<polygon points="557.7,156.2 553.05,168.23 551.45,163.62 546.62,162.82" fill="#000"/>
<line x1="521.3" y1="233.0" x2="544.03" y2="273.69" stroke="#000" stroke-width="2"/>
<polygon points="549.0,282.6 539.38,274.00 544.27,274.13 546.72,269.90" fill="#000"/>
<g clip-path="url(#cb1)">
<rect x="86.51" y="629.40" width="5.05" height="11.30" fill="#FDC896" stroke="#000" stroke-width="1.7"/>
<rect x="86.51" y="586.00" width="5.05" height="43.40" fill="#FAAFF5" stroke="#000" stroke-width="1.7"/>
<rect x="86.51" y="578.50" width="5.05" height="7.50" fill="#9CDDA0" stroke="#000" stroke-width="1.7"/>
<rect x="86.51" y="550.40" width="5.05" height="28.10" fill="#C1B0D8" stroke="#000" stroke-width="1.7"/>
<rect x="86.51" y="521.20" width="5.05" height="29.20" fill="#FEFC98" stroke="#000" stroke-width="1.7"/>
<rect x="86.51" y="515.00" width="5.05" height="6.20" fill="#ACE1E8" stroke="#000" stroke-width="1.7"/>
<rect x="96.58" y="630.70" width="5.05" height="10.00" fill="#FDC896" stroke="#000" stroke-width="1.7"/>
<rect x="96.58" y="595.70" width="5.05" height="35.00" fill="#FAAFF5" stroke="#000" stroke-width="1.7"/>
<rect x="96.58" y="589.60" width="5.05" height="6.10" fill="#9CDDA0" stroke="#000" stroke-width="1.7"/>
<rect x="96.58" y="566.40" width="5.05" height="23.20" fill="#C1B0D8" stroke="#000" stroke-width="1.7"/>
<rect x="96.58" y="542.00" width="5.05" height="24.40" fill="#FEFC98" stroke="#000" stroke-width="1.7"/>
<rect x="96.58" y="536.40" width="5.05" height="5.60" fill="#ACE1E8" stroke="#000" stroke-width="1.7"/>
<rect x="106.64" y="632.40" width="5.05" height="8.30" fill="#FDC896" stroke="#000" stroke-width="1.7"/>
<rect x="106.64" y="598.00" width="5.05" height="34.40" fill="#FAAFF5" stroke="#000" stroke-width="1.7"/>
<rect x="106.64" y="591.50" width="5.05" height="6.50" fill="#9CDDA0" stroke="#000" stroke-width="1.7"/>
<rect x="106.64" y="571.30" width="5.05" height="20.20" fill="#C1B0D8" stroke="#000" stroke-width="1.7"/>
<rect x="106.64" y="549.20" width="5.05" height="22.10" fill="#FEFC98" stroke="#000" stroke-width="1.7"/>
<rect x="106.64" y="544.60" width="5.05" height="4.60" fill="#ACE1E8" stroke="#000" stroke-width="1.7"/>
<rect x="116.71" y="632.70" width="5.05" height="8.00" fill="#FDC896" stroke="#000" stroke-width="1.7"/>
<rect x="116.71" y="599.30" width="5.05" height="33.40" fill="#FAAFF5" stroke="#000" stroke-width="1.7"/>
<rect x="116.71" y="593.80" width="5.05" height="5.50" fill="#9CDDA0" stroke="#000" stroke-width="1.7"/>
<rect x="116.71" y="573.80" width="5.05" height="20.00" fill="#C1B0D8" stroke="#000" stroke-width="1.7"/>
<rect x="116.71" y="553.40" width="5.05" height="20.40" fill="#FEFC98" stroke="#000" stroke-width="1.7"/>
<rect x="116.71" y="548.90" width="5.05" height="4.50" fill="#ACE1E8" stroke="#000" stroke-width="1.7"/>
<rect x="126.78" y="637.20" width="5.05" height="3.50" fill="#FDC896" stroke="#000" stroke-width="1.7"/>
<rect x="126.78" y="623.20" width="5.05" height="14.00" fill="#FAAFF5" stroke="#000" stroke-width="1.7"/>
<rect x="126.78" y="620.50" width="5.05" height="2.70" fill="#9CDDA0" stroke="#000" stroke-width="1.7"/>
<rect x="126.78" y="613.20" width="5.05" height="7.30" fill="#C1B0D8" stroke="#000" stroke-width="1.7"/>
<rect x="126.78" y="604.30" width="5.05" height="8.90" fill="#FEFC98" stroke="#000" stroke-width="1.7"/>
<rect x="126.78" y="602.20" width="5.05" height="2.10" fill="#ACE1E8" stroke="#000" stroke-width="1.7"/>
<rect x="136.85" y="638.20" width="5.05" height="2.50" fill="#FDC896" stroke="#000" stroke-width="1.7"/>
<rect x="136.85" y="626.00" width="5.05" height="12.20" fill="#FAAFF5" stroke="#000" stroke-width="1.7"/>
<rect x="136.85" y="622.70" width="5.05" height="3.30" fill="#9CDDA0" stroke="#000" stroke-width="1.7"/>
<rect x="136.85" y="615.50" width="5.05" height="7.20" fill="#C1B0D8" stroke="#000" stroke-width="1.7"/>
<rect x="136.85" y="608.50" width="5.05" height="7.00" fill="#FEFC98" stroke="#000" stroke-width="1.7"/>
<rect x="136.85" y="606.30" width="5.05" height="2.20" fill="#ACE1E8" stroke="#000" stroke-width="1.7"/>
<rect x="146.92" y="636.90" width="5.05" height="3.80" fill="#FDC896" stroke="#000" stroke-width="1.7"/>
<rect x="146.92" y="621.40" width="5.05" height="15.50" fill="#FAAFF5" stroke="#000" stroke-width="1.7"/>
<rect x="146.92" y="618.00" width="5.05" height="3.40" fill="#9CDDA0" stroke="#000" stroke-width="1.7"/>
<rect x="146.92" y="608.80" width="5.05" height="9.20" fill="#C1B0D8" stroke="#000" stroke-width="1.7"/>
<rect x="146.92" y="599.30" width="5.05" height="9.50" fill="#FEFC98" stroke="#000" stroke-width="1.7"/>
<rect x="146.92" y="596.50" width="5.05" height="2.80" fill="#ACE1E8" stroke="#000" stroke-width="1.7"/>
<rect x="156.98" y="633.60" width="5.05" height="7.10" fill="#FDC896" stroke="#000" stroke-width="1.7"/>
<rect x="156.98" y="606.80" width="5.05" height="26.80" fill="#FAAFF5" stroke="#000" stroke-width="1.7"/>
<rect x="156.98" y="601.80" width="5.05" height="5.00" fill="#9CDDA0" stroke="#000" stroke-width="1.7"/>
<rect x="156.98" y="585.50" width="5.05" height="16.30" fill="#C1B0D8" stroke="#000" stroke-width="1.7"/>
<rect x="156.98" y="567.60" width="5.05" height="17.90" fill="#FEFC98" stroke="#000" stroke-width="1.7"/>
<rect x="156.98" y="564.00" width="5.05" height="3.60" fill="#ACE1E8" stroke="#000" stroke-width="1.7"/>
<rect x="167.05" y="634.40" width="5.05" height="6.30" fill="#FDC896" stroke="#000" stroke-width="1.7"/>
<rect x="167.05" y="608.20" width="5.05" height="26.20" fill="#FAAFF5" stroke="#000" stroke-width="1.7"/>
<rect x="167.05" y="603.20" width="5.05" height="5.00" fill="#9CDDA0" stroke="#000" stroke-width="1.7"/>
<rect x="167.05" y="587.10" width="5.05" height="16.10" fill="#C1B0D8" stroke="#000" stroke-width="1.7"/>
<rect x="167.05" y="571.50" width="5.05" height="15.60" fill="#FEFC98" stroke="#000" stroke-width="1.7"/>
<rect x="167.05" y="567.60" width="5.05" height="3.90" fill="#ACE1E8" stroke="#000" stroke-width="1.7"/>
<rect x="177.12" y="634.90" width="5.05" height="5.80" fill="#FDC896" stroke="#000" stroke-width="1.7"/>
<rect x="177.12" y="609.70" width="5.05" height="25.20" fill="#FAAFF5" stroke="#000" stroke-width="1.7"/>
<rect x="177.12" y="605.50" width="5.05" height="4.20" fill="#9CDDA0" stroke="#000" stroke-width="1.7"/>
<rect x="177.12" y="591.00" width="5.05" height="14.50" fill="#C1B0D8" stroke="#000" stroke-width="1.7"/>
<rect x="177.12" y="574.80" width="5.05" height="16.20" fill="#FEFC98" stroke="#000" stroke-width="1.7"/>
<rect x="177.12" y="571.50" width="5.05" height="3.30" fill="#ACE1E8" stroke="#000" stroke-width="1.7"/>
<rect x="187.19" y="633.60" width="5.05" height="7.10" fill="#FDC896" stroke="#000" stroke-width="1.7"/>
<rect x="187.19" y="603.00" width="5.05" height="30.60" fill="#FAAFF5" stroke="#000" stroke-width="1.7"/>
<rect x="187.19" y="598.20" width="5.05" height="4.80" fill="#9CDDA0" stroke="#000" stroke-width="1.7"/>
<rect x="187.19" y="581.80" width="5.05" height="16.40" fill="#C1B0D8" stroke="#000" stroke-width="1.7"/>
<rect x="187.19" y="564.80" width="5.05" height="17.00" fill="#FEFC98" stroke="#000" stroke-width="1.7"/>
<rect x="187.19" y="561.40" width="5.05" height="3.40" fill="#ACE1E8" stroke="#000" stroke-width="1.7"/>
<rect x="197.26" y="631.90" width="5.05" height="8.80" fill="#FDC896" stroke="#000" stroke-width="1.7"/>
<rect x="197.26" y="593.50" width="5.05" height="38.40" fill="#FAAFF5" stroke="#000" stroke-width="1.7"/>
<rect x="197.26" y="586.00" width="5.05" height="7.50" fill="#9CDDA0" stroke="#000" stroke-width="1.7"/>
<rect x="197.26" y="564.80" width="5.05" height="21.20" fill="#C1B0D8" stroke="#000" stroke-width="1.7"/>
<rect x="197.26" y="542.60" width="5.05" height="22.20" fill="#FEFC98" stroke="#000" stroke-width="1.7"/>
<rect x="197.26" y="538.70" width="5.05" height="3.90" fill="#ACE1E8" stroke="#000" stroke-width="1.7"/>
<rect x="207.32" y="631.90" width="5.05" height="8.80" fill="#FDC896" stroke="#000" stroke-width="1.7"/>
<rect x="207.32" y="594.80" width="5.05" height="37.10" fill="#FAAFF5" stroke="#000" stroke-width="1.7"/>
<rect x="207.32" y="587.60" width="5.05" height="7.20" fill="#9CDDA0" stroke="#000" stroke-width="1.7"/>
<rect x="207.32" y="566.80" width="5.05" height="20.80" fill="#C1B0D8" stroke="#000" stroke-width="1.7"/>
<rect x="207.32" y="545.40" width="5.05" height="21.40" fill="#FEFC98" stroke="#000" stroke-width="1.7"/>
<rect x="207.32" y="541.20" width="5.05" height="4.20" fill="#ACE1E8" stroke="#000" stroke-width="1.7"/>
<rect x="217.39" y="632.40" width="5.05" height="8.30" fill="#FDC896" stroke="#000" stroke-width="1.7"/>
<rect x="217.39" y="596.00" width="5.05" height="36.40" fill="#FAAFF5" stroke="#000" stroke-width="1.7"/>
<rect x="217.39" y="590.20" width="5.05" height="5.80" fill="#9CDDA0" stroke="#000" stroke-width="1.7"/>
<rect x="217.39" y="570.10" width="5.05" height="20.10" fill="#C1B0D8" stroke="#000" stroke-width="1.7"/>
<rect x="217.39" y="548.70" width="5.05" height="21.40" fill="#FEFC98" stroke="#000" stroke-width="1.7"/>
<rect x="217.39" y="545.10" width="5.05" height="3.60" fill="#ACE1E8" stroke="#000" stroke-width="1.7"/>
<rect x="227.46" y="632.70" width="5.05" height="8.00" fill="#FDC896" stroke="#000" stroke-width="1.7"/>
<rect x="227.46" y="600.20" width="5.05" height="32.50" fill="#FAAFF5" stroke="#000" stroke-width="1.7"/>
<rect x="227.46" y="594.30" width="5.05" height="5.90" fill="#9CDDA0" stroke="#000" stroke-width="1.7"/>
<rect x="227.46" y="576.00" width="5.05" height="18.30" fill="#C1B0D8" stroke="#000" stroke-width="1.7"/>
<rect x="227.46" y="556.80" width="5.05" height="19.20" fill="#FEFC98" stroke="#000" stroke-width="1.7"/>
<rect x="227.46" y="553.10" width="5.05" height="3.70" fill="#ACE1E8" stroke="#000" stroke-width="1.7"/>
<rect x="237.53" y="638.20" width="5.05" height="2.50" fill="#FDC896" stroke="#000" stroke-width="1.7"/>
<rect x="237.53" y="628.50" width="5.05" height="9.70" fill="#FAAFF5" stroke="#000" stroke-width="1.7"/>
<rect x="237.53" y="626.00" width="5.05" height="2.50" fill="#9CDDA0" stroke="#000" stroke-width="1.7"/>
<rect x="237.53" y="621.50" width="5.05" height="4.50" fill="#C1B0D8" stroke="#000" stroke-width="1.7"/>
<rect x="237.53" y="616.90" width="5.05" height="4.60" fill="#FEFC98" stroke="#000" stroke-width="1.7"/>
<rect x="237.53" y="615.20" width="5.05" height="1.70" fill="#ACE1E8" stroke="#000" stroke-width="1.7"/>
<rect x="247.60" y="633.20" width="5.05" height="7.50" fill="#FDC896" stroke="#000" stroke-width="1.7"/>
<rect x="247.60" y="601.50" width="5.05" height="31.70" fill="#FAAFF5" stroke="#000" stroke-width="1.7"/>
<rect x="247.60" y="596.00" width="5.05" height="5.50" fill="#9CDDA0" stroke="#000" stroke-width="1.7"/>
<rect x="247.60" y="578.50" width="5.05" height="17.50" fill="#C1B0D8" stroke="#000" stroke-width="1.7"/>
<rect x="247.60" y="560.10" width="5.05" height="18.40" fill="#FEFC98" stroke="#000" stroke-width="1.7"/>
<rect x="247.60" y="556.80" width="5.05" height="3.30" fill="#ACE1E8" stroke="#000" stroke-width="1.7"/>
<rect x="257.67" y="633.60" width="5.05" height="7.10" fill="#FDC896" stroke="#000" stroke-width="1.7"/>
<rect x="257.67" y="602.20" width="5.05" height="31.40" fill="#FAAFF5" stroke="#000" stroke-width="1.7"/>
<rect x="257.67" y="597.30" width="5.05" height="4.90" fill="#9CDDA0" stroke="#000" stroke-width="1.7"/>
<rect x="257.67" y="581.00" width="5.05" height="16.30" fill="#C1B0D8" stroke="#000" stroke-width="1.7"/>
<rect x="257.67" y="563.80" width="5.05" height="17.20" fill="#FEFC98" stroke="#000" stroke-width="1.7"/>
<rect x="257.67" y="560.10" width="5.05" height="3.70" fill="#ACE1E8" stroke="#000" stroke-width="1.7"/>
<rect x="267.73" y="638.60" width="5.05" height="2.10" fill="#FDC896" stroke="#000" stroke-width="1.7"/>
<rect x="267.73" y="633.60" width="5.05" height="5.00" fill="#FAAFF5" stroke="#000" stroke-width="1.7"/>
<rect x="267.73" y="631.90" width="5.05" height="1.70" fill="#9CDDA0" stroke="#000" stroke-width="1.7"/>
<rect x="267.73" y="629.40" width="5.05" height="2.50" fill="#C1B0D8" stroke="#000" stroke-width="1.7"/>
<rect x="267.73" y="626.50" width="5.05" height="2.90" fill="#FEFC98" stroke="#000" stroke-width="1.7"/>
<rect x="267.73" y="625.20" width="5.05" height="1.30" fill="#ACE1E8" stroke="#000" stroke-width="1.7"/>
<rect x="277.80" y="638.90" width="5.05" height="1.80" fill="#FDC896" stroke="#000" stroke-width="1.7"/>
<rect x="277.80" y="634.40" width="5.05" height="4.50" fill="#FAAFF5" stroke="#000" stroke-width="1.7"/>
<rect x="277.80" y="632.70" width="5.05" height="1.70" fill="#9CDDA0" stroke="#000" stroke-width="1.7"/>
<rect x="277.80" y="630.20" width="5.05" height="2.50" fill="#C1B0D8" stroke="#000" stroke-width="1.7"/>
<rect x="277.80" y="627.70" width="5.05" height="2.50" fill="#FEFC98" stroke="#000" stroke-width="1.7"/>
<rect x="277.80" y="626.40" width="5.05" height="1.30" fill="#ACE1E8" stroke="#000" stroke-width="1.7"/>
<rect x="287.87" y="633.60" width="5.05" height="7.10" fill="#FDC896" stroke="#000" stroke-width="1.7"/>
<rect x="287.87" y="604.30" width="5.05" height="29.30" fill="#FAAFF5" stroke="#000" stroke-width="1.7"/>
<rect x="287.87" y="599.00" width="5.05" height="5.30" fill="#9CDDA0" stroke="#000" stroke-width="1.7"/>
<rect x="287.87" y="582.60" width="5.05" height="16.40" fill="#C1B0D8" stroke="#000" stroke-width="1.7"/>
<rect x="287.87" y="566.30" width="5.05" height="16.30" fill="#FEFC98" stroke="#000" stroke-width="1.7"/>
<rect x="287.87" y="562.90" width="5.05" height="3.40" fill="#ACE1E8" stroke="#000" stroke-width="1.7"/>
<rect x="297.94" y="633.60" width="5.05" height="7.10" fill="#FDC896" stroke="#000" stroke-width="1.7"/>
<rect x="297.94" y="605.20" width="5.05" height="28.40" fill="#FAAFF5" stroke="#000" stroke-width="1.7"/>
<rect x="297.94" y="600.70" width="5.05" height="4.50" fill="#9CDDA0" stroke="#000" stroke-width="1.7"/>
<rect x="297.94" y="585.10" width="5.05" height="15.60" fill="#C1B0D8" stroke="#000" stroke-width="1.7"/>
<rect x="297.94" y="569.00" width="5.05" height="16.10" fill="#FEFC98" stroke="#000" stroke-width="1.7"/>
<rect x="297.94" y="565.90" width="5.05" height="3.10" fill="#ACE1E8" stroke="#000" stroke-width="1.7"/>
<rect x="308.00" y="633.20" width="5.05" height="7.50" fill="#FDC896" stroke="#000" stroke-width="1.7"/>
<rect x="308.00" y="605.20" width="5.05" height="28.00" fill="#FAAFF5" stroke="#000" stroke-width="1.7"/>
<rect x="308.00" y="599.80" width="5.05" height="5.40" fill="#9CDDA0" stroke="#000" stroke-width="1.7"/>
<rect x="308.00" y="586.00" width="5.05" height="13.80" fill="#C1B0D8" stroke="#000" stroke-width="1.7"/>
<rect x="308.00" y="570.10" width="5.05" height="15.90" fill="#FEFC98" stroke="#000" stroke-width="1.7"/>
<rect x="308.00" y="566.40" width="5.05" height="3.70" fill="#ACE1E8" stroke="#000" stroke-width="1.7"/>
<rect x="318.07" y="633.60" width="5.05" height="7.10" fill="#FDC896" stroke="#000" stroke-width="1.7"/>
<rect x="318.07" y="608.50" width="5.05" height="25.10" fill="#FAAFF5" stroke="#000" stroke-width="1.7"/>
<rect x="318.07" y="603.50" width="5.05" height="5.00" fill="#9CDDA0" stroke="#000" stroke-width="1.7"/>
<rect x="318.07" y="590.20" width="5.05" height="13.30" fill="#C1B0D8" stroke="#000" stroke-width="1.7"/>
<rect x="318.07" y="576.00" width="5.05" height="14.20" fill="#FEFC98" stroke="#000" stroke-width="1.7"/>
<rect x="318.07" y="571.50" width="5.05" height="4.50" fill="#ACE1E8" stroke="#000" stroke-width="1.7"/>
<rect x="328.14" y="633.60" width="5.05" height="7.10" fill="#FDC896" stroke="#000" stroke-width="1.7"/>
<rect x="328.14" y="600.20" width="5.05" height="33.40" fill="#FAAFF5" stroke="#000" stroke-width="1.7"/>
<rect x="328.14" y="593.50" width="5.05" height="6.70" fill="#9CDDA0" stroke="#000" stroke-width="1.7"/>
<rect x="328.14" y="577.60" width="5.05" height="15.90" fill="#C1B0D8" stroke="#000" stroke-width="1.7"/>
<rect x="328.14" y="560.90" width="5.05" height="16.70" fill="#FEFC98" stroke="#000" stroke-width="1.7"/>
<rect x="328.14" y="556.40" width="5.05" height="4.50" fill="#ACE1E8" stroke="#000" stroke-width="1.7"/>
<rect x="338.21" y="633.60" width="5.05" height="7.10" fill="#FDC896" stroke="#000" stroke-width="1.7"/>
<rect x="338.21" y="601.50" width="5.05" height="32.10" fill="#FAAFF5" stroke="#000" stroke-width="1.7"/>
<rect x="338.21" y="596.00" width="5.05" height="5.50" fill="#9CDDA0" stroke="#000" stroke-width="1.7"/>
<rect x="338.21" y="581.00" width="5.05" height="15.00" fill="#C1B0D8" stroke="#000" stroke-width="1.7"/>
<rect x="338.21" y="564.30" width="5.05" height="16.70" fill="#FEFC98" stroke="#000" stroke-width="1.7"/>
<rect x="338.21" y="560.10" width="5.05" height="4.20" fill="#ACE1E8" stroke="#000" stroke-width="1.7"/>
<rect x="348.28" y="634.10" width="5.05" height="6.60" fill="#FDC896" stroke="#000" stroke-width="1.7"/>
<rect x="348.28" y="604.80" width="5.05" height="29.30" fill="#FAAFF5" stroke="#000" stroke-width="1.7"/>
<rect x="348.28" y="599.80" width="5.05" height="5.00" fill="#9CDDA0" stroke="#000" stroke-width="1.7"/>
<rect x="348.28" y="586.00" width="5.05" height="13.80" fill="#C1B0D8" stroke="#000" stroke-width="1.7"/>
<rect x="348.28" y="571.50" width="5.05" height="14.50" fill="#FEFC98" stroke="#000" stroke-width="1.7"/>
<rect x="348.28" y="568.10" width="5.05" height="3.40" fill="#ACE1E8" stroke="#000" stroke-width="1.7"/>
<rect x="358.35" y="633.90" width="5.05" height="6.80" fill="#FDC896" stroke="#000" stroke-width="1.7"/>
<rect x="358.35" y="605.50" width="5.05" height="28.40" fill="#FAAFF5" stroke="#000" stroke-width="1.7"/>
<rect x="358.35" y="599.80" width="5.05" height="5.70" fill="#9CDDA0" stroke="#000" stroke-width="1.7"/>
<rect x="358.35" y="585.50" width="5.05" height="14.30" fill="#C1B0D8" stroke="#000" stroke-width="1.7"/>
<rect x="358.35" y="571.50" width="5.05" height="14.00" fill="#FEFC98" stroke="#000" stroke-width="1.7"/>
<rect x="358.35" y="567.60" width="5.05" height="3.90" fill="#ACE1E8" stroke="#000" stroke-width="1.7"/>
<rect x="368.41" y="633.60" width="5.05" height="7.10" fill="#FDC896" stroke="#000" stroke-width="1.7"/>
<rect x="368.41" y="602.70" width="5.05" height="30.90" fill="#FAAFF5" stroke="#000" stroke-width="1.7"/>
<rect x="368.41" y="597.20" width="5.05" height="5.50" fill="#9CDDA0" stroke="#000" stroke-width="1.7"/>
<rect x="368.41" y="581.50" width="5.05" height="15.70" fill="#C1B0D8" stroke="#000" stroke-width="1.7"/>
<rect x="368.41" y="565.40" width="5.05" height="16.10" fill="#FEFC98" stroke="#000" stroke-width="1.7"/>
<rect x="368.41" y="561.80" width="5.05" height="3.60" fill="#ACE1E8" stroke="#000" stroke-width="1.7"/>
<rect x="378.48" y="633.90" width="5.05" height="6.80" fill="#FDC896" stroke="#000" stroke-width="1.7"/>
<rect x="378.48" y="603.50" width="5.05" height="30.40" fill="#FAAFF5" stroke="#000" stroke-width="1.7"/>
<rect x="378.48" y="598.20" width="5.05" height="5.30" fill="#9CDDA0" stroke="#000" stroke-width="1.7"/>
<rect x="378.48" y="583.10" width="5.05" height="15.10" fill="#C1B0D8" stroke="#000" stroke-width="1.7"/>
<rect x="378.48" y="568.10" width="5.05" height="15.00" fill="#FEFC98" stroke="#000" stroke-width="1.7"/>
<rect x="378.48" y="564.30" width="5.05" height="3.80" fill="#ACE1E8" stroke="#000" stroke-width="1.7"/>
<rect x="388.55" y="633.90" width="5.05" height="6.80" fill="#FDC896" stroke="#000" stroke-width="1.7"/>
<rect x="388.55" y="602.60" width="5.05" height="31.30" fill="#FAAFF5" stroke="#000" stroke-width="1.7"/>
<rect x="388.55" y="596.50" width="5.05" height="6.10" fill="#9CDDA0" stroke="#000" stroke-width="1.7"/>
<rect x="388.55" y="581.80" width="5.05" height="14.70" fill="#C1B0D8" stroke="#000" stroke-width="1.7"/>
<rect x="388.55" y="565.30" width="5.05" height="16.50" fill="#FEFC98" stroke="#000" stroke-width="1.7"/>
<rect x="388.55" y="561.70" width="5.05" height="3.60" fill="#ACE1E8" stroke="#000" stroke-width="1.7"/>
<rect x="398.62" y="634.30" width="5.05" height="6.40" fill="#FDC896" stroke="#000" stroke-width="1.7"/>
<rect x="398.62" y="603.10" width="5.05" height="31.20" fill="#FAAFF5" stroke="#000" stroke-width="1.7"/>
<rect x="398.62" y="597.20" width="5.05" height="5.90" fill="#9CDDA0" stroke="#000" stroke-width="1.7"/>
<rect x="398.62" y="582.60" width="5.05" height="14.60" fill="#C1B0D8" stroke="#000" stroke-width="1.7"/>
<rect x="398.62" y="567.00" width="5.05" height="15.60" fill="#FEFC98" stroke="#000" stroke-width="1.7"/>
<rect x="398.62" y="562.90" width="5.05" height="4.10" fill="#ACE1E8" stroke="#000" stroke-width="1.7"/>
<rect x="408.69" y="635.50" width="5.05" height="5.20" fill="#FDC896" stroke="#000" stroke-width="1.7"/>
<rect x="408.69" y="606.00" width="5.05" height="29.50" fill="#FAAFF5" stroke="#000" stroke-width="1.7"/>
<rect x="408.69" y="600.80" width="5.05" height="5.20" fill="#9CDDA0" stroke="#000" stroke-width="1.7"/>
<rect x="408.69" y="587.80" width="5.05" height="13.00" fill="#C1B0D8" stroke="#000" stroke-width="1.7"/>
<rect x="408.69" y="572.90" width="5.05" height="14.90" fill="#FEFC98" stroke="#000" stroke-width="1.7"/>
<rect x="408.69" y="569.30" width="5.05" height="3.60" fill="#ACE1E8" stroke="#000" stroke-width="1.7"/>
<rect x="418.75" y="628.40" width="5.05" height="12.30" fill="#FDC896" stroke="#000" stroke-width="1.7"/>
<rect x="418.75" y="590.10" width="5.05" height="38.30" fill="#FAAFF5" stroke="#000" stroke-width="1.7"/>
<rect x="418.75" y="581.80" width="5.05" height="8.30" fill="#9CDDA0" stroke="#000" stroke-width="1.7"/>
<rect x="418.75" y="558.90" width="5.05" height="22.90" fill="#C1B0D8" stroke="#000" stroke-width="1.7"/>
<rect x="418.75" y="537.40" width="5.05" height="21.50" fill="#FEFC98" stroke="#000" stroke-width="1.7"/>
<rect x="418.75" y="532.70" width="5.05" height="4.70" fill="#ACE1E8" stroke="#000" stroke-width="1.7"/>
<rect x="428.82" y="626.20" width="5.05" height="14.50" fill="#FDC896" stroke="#000" stroke-width="1.7"/>
<rect x="428.82" y="579.20" width="5.05" height="47.00" fill="#FAAFF5" stroke="#000" stroke-width="1.7"/>
<rect x="428.82" y="568.60" width="5.05" height="10.60" fill="#9CDDA0" stroke="#000" stroke-width="1.7"/>
<rect x="428.82" y="544.00" width="5.05" height="24.60" fill="#C1B0D8" stroke="#000" stroke-width="1.7"/>
<rect x="428.82" y="516.40" width="5.05" height="27.60" fill="#FEFC98" stroke="#000" stroke-width="1.7"/>
<rect x="428.82" y="510.60" width="5.05" height="5.80" fill="#ACE1E8" stroke="#000" stroke-width="1.7"/>
<rect x="438.89" y="619.30" width="5.05" height="21.40" fill="#FDC896" stroke="#000" stroke-width="1.7"/>
<rect x="438.89" y="555.50" width="5.05" height="63.80" fill="#FAAFF5" stroke="#000" stroke-width="1.7"/>
<rect x="438.89" y="533.60" width="5.05" height="21.90" fill="#9CDDA0" stroke="#000" stroke-width="1.7"/>
<rect x="438.89" y="499.60" width="5.05" height="34.00" fill="#C1B0D8" stroke="#000" stroke-width="1.7"/>
<rect x="438.89" y="462.30" width="5.05" height="37.30" fill="#FEFC98" stroke="#000" stroke-width="1.7"/>
<rect x="438.89" y="449.60" width="5.05" height="12.70" fill="#ACE1E8" stroke="#000" stroke-width="1.7"/>
<rect x="448.96" y="621.10" width="5.05" height="19.60" fill="#FDC896" stroke="#000" stroke-width="1.7"/>
<rect x="448.96" y="575.80" width="5.05" height="45.30" fill="#FAAFF5" stroke="#000" stroke-width="1.7"/>
<rect x="448.96" y="557.80" width="5.05" height="18.00" fill="#9CDDA0" stroke="#000" stroke-width="1.7"/>
<rect x="448.96" y="532.00" width="5.05" height="25.80" fill="#C1B0D8" stroke="#000" stroke-width="1.7"/>
<rect x="448.96" y="502.10" width="5.05" height="29.90" fill="#FEFC98" stroke="#000" stroke-width="1.7"/>
<rect x="448.96" y="492.70" width="5.05" height="9.40" fill="#ACE1E8" stroke="#000" stroke-width="1.7"/>
<rect x="459.03" y="622.30" width="5.05" height="18.40" fill="#FDC896" stroke="#000" stroke-width="1.7"/>
<rect x="459.03" y="577.40" width="5.05" height="44.90" fill="#FAAFF5" stroke="#000" stroke-width="1.7"/>
<rect x="459.03" y="560.10" width="5.05" height="17.30" fill="#9CDDA0" stroke="#000" stroke-width="1.7"/>
<rect x="459.03" y="534.30" width="5.05" height="25.80" fill="#C1B0D8" stroke="#000" stroke-width="1.7"/>
<rect x="459.03" y="506.00" width="5.05" height="28.30" fill="#FEFC98" stroke="#000" stroke-width="1.7"/>
<rect x="459.03" y="496.10" width="5.05" height="9.90" fill="#ACE1E8" stroke="#000" stroke-width="1.7"/>
<rect x="469.09" y="625.80" width="5.05" height="14.90" fill="#FDC896" stroke="#000" stroke-width="1.7"/>
<rect x="469.09" y="557.80" width="5.05" height="68.00" fill="#FAAFF5" stroke="#000" stroke-width="1.7"/>
<rect x="469.09" y="546.30" width="5.05" height="11.50" fill="#9CDDA0" stroke="#000" stroke-width="1.7"/>
<rect x="469.09" y="517.50" width="5.05" height="28.80" fill="#C1B0D8" stroke="#000" stroke-width="1.7"/>
<rect x="469.09" y="492.90" width="5.05" height="24.60" fill="#FEFC98" stroke="#000" stroke-width="1.7"/>
<rect x="469.09" y="486.90" width="5.05" height="6.00" fill="#ACE1E8" stroke="#000" stroke-width="1.7"/>
<rect x="479.16" y="630.40" width="5.05" height="10.30" fill="#FDC896" stroke="#000" stroke-width="1.7"/>
<rect x="479.16" y="587.80" width="5.05" height="42.60" fill="#FAAFF5" stroke="#000" stroke-width="1.7"/>
<rect x="479.16" y="580.40" width="5.05" height="7.40" fill="#9CDDA0" stroke="#000" stroke-width="1.7"/>
<rect x="479.16" y="562.00" width="5.05" height="18.40" fill="#C1B0D8" stroke="#000" stroke-width="1.7"/>
<rect x="479.16" y="540.10" width="5.05" height="21.90" fill="#FEFC98" stroke="#000" stroke-width="1.7"/>
<rect x="479.16" y="536.40" width="5.05" height="3.70" fill="#ACE1E8" stroke="#000" stroke-width="1.7"/>
<rect x="489.23" y="632.80" width="5.05" height="7.90" fill="#FDC896" stroke="#000" stroke-width="1.7"/>
<rect x="489.23" y="598.90" width="5.05" height="33.90" fill="#FAAFF5" stroke="#000" stroke-width="1.7"/>
<rect x="489.23" y="592.50" width="5.05" height="6.40" fill="#9CDDA0" stroke="#000" stroke-width="1.7"/>
<rect x="489.23" y="577.50" width="5.05" height="15.00" fill="#C1B0D8" stroke="#000" stroke-width="1.7"/>
<rect x="489.23" y="560.20" width="5.05" height="17.30" fill="#FEFC98" stroke="#000" stroke-width="1.7"/>
<rect x="489.23" y="556.80" width="5.05" height="3.40" fill="#ACE1E8" stroke="#000" stroke-width="1.7"/>
<rect x="499.30" y="638.10" width="5.05" height="2.60" fill="#FDC896" stroke="#000" stroke-width="1.7"/>
<rect x="499.30" y="628.20" width="5.05" height="9.90" fill="#FAAFF5" stroke="#000" stroke-width="1.7"/>
<rect x="499.30" y="625.90" width="5.05" height="2.30" fill="#9CDDA0" stroke="#000" stroke-width="1.7"/>
<rect x="499.30" y="621.30" width="5.05" height="4.60" fill="#C1B0D8" stroke="#000" stroke-width="1.7"/>
<rect x="499.30" y="616.70" width="5.05" height="4.60" fill="#FEFC98" stroke="#000" stroke-width="1.7"/>
<rect x="499.30" y="615.00" width="5.05" height="1.70" fill="#ACE1E8" stroke="#000" stroke-width="1.7"/>
<rect x="509.37" y="638.50" width="5.05" height="2.20" fill="#FDC896" stroke="#000" stroke-width="1.7"/>
<rect x="509.37" y="628.20" width="5.05" height="10.30" fill="#FAAFF5" stroke="#000" stroke-width="1.7"/>
<rect x="509.37" y="625.90" width="5.05" height="2.30" fill="#9CDDA0" stroke="#000" stroke-width="1.7"/>
<rect x="509.37" y="622.00" width="5.05" height="3.90" fill="#C1B0D8" stroke="#000" stroke-width="1.7"/>
<rect x="509.37" y="617.00" width="5.05" height="5.00" fill="#FEFC98" stroke="#000" stroke-width="1.7"/>
<rect x="509.37" y="615.50" width="5.05" height="1.50" fill="#ACE1E8" stroke="#000" stroke-width="1.7"/>
<rect x="519.43" y="638.10" width="5.05" height="2.60" fill="#FDC896" stroke="#000" stroke-width="1.7"/>
<rect x="519.43" y="627.70" width="5.05" height="10.40" fill="#FAAFF5" stroke="#000" stroke-width="1.7"/>
<rect x="519.43" y="625.20" width="5.05" height="2.50" fill="#9CDDA0" stroke="#000" stroke-width="1.7"/>
<rect x="519.43" y="621.30" width="5.05" height="3.90" fill="#C1B0D8" stroke="#000" stroke-width="1.7"/>
<rect x="519.43" y="616.70" width="5.05" height="4.60" fill="#FEFC98" stroke="#000" stroke-width="1.7"/>
<rect x="519.43" y="615.00" width="5.05" height="1.70" fill="#ACE1E8" stroke="#000" stroke-width="1.7"/>
<rect x="529.50" y="637.40" width="5.05" height="3.30" fill="#FDC896" stroke="#000" stroke-width="1.7"/>
<rect x="529.50" y="627.50" width="5.05" height="9.90" fill="#FAAFF5" stroke="#000" stroke-width="1.7"/>
<rect x="529.50" y="625.20" width="5.05" height="2.30" fill="#9CDDA0" stroke="#000" stroke-width="1.7"/>
<rect x="529.50" y="621.30" width="5.05" height="3.90" fill="#C1B0D8" stroke="#000" stroke-width="1.7"/>
<rect x="529.50" y="616.10" width="5.05" height="5.20" fill="#FEFC98" stroke="#000" stroke-width="1.7"/>
<rect x="529.50" y="614.40" width="5.05" height="1.70" fill="#ACE1E8" stroke="#000" stroke-width="1.7"/>
<rect x="539.57" y="621.30" width="5.05" height="19.40" fill="#FDC896" stroke="#000" stroke-width="1.7"/>
<rect x="539.57" y="563.70" width="5.05" height="57.60" fill="#FAAFF5" stroke="#000" stroke-width="1.7"/>
<rect x="539.57" y="556.80" width="5.05" height="6.90" fill="#9CDDA0" stroke="#000" stroke-width="1.7"/>
<rect x="539.57" y="531.40" width="5.05" height="25.40" fill="#C1B0D8" stroke="#000" stroke-width="1.7"/>
<rect x="539.57" y="501.00" width="5.05" height="30.40" fill="#FEFC98" stroke="#000" stroke-width="1.7"/>
<rect x="539.57" y="494.10" width="5.05" height="6.90" fill="#ACE1E8" stroke="#000" stroke-width="1.7"/>
<rect x="549.64" y="622.90" width="5.05" height="17.80" fill="#FDC896" stroke="#000" stroke-width="1.7"/>
<rect x="549.64" y="568.30" width="5.05" height="54.60" fill="#FAAFF5" stroke="#000" stroke-width="1.7"/>
<rect x="549.64" y="561.40" width="5.05" height="6.90" fill="#9CDDA0" stroke="#000" stroke-width="1.7"/>
<rect x="549.64" y="539.50" width="5.05" height="21.90" fill="#C1B0D8" stroke="#000" stroke-width="1.7"/>
<rect x="549.64" y="512.30" width="5.05" height="27.20" fill="#FEFC98" stroke="#000" stroke-width="1.7"/>
<rect x="549.64" y="506.10" width="5.05" height="6.20" fill="#ACE1E8" stroke="#000" stroke-width="1.7"/>
<rect x="559.71" y="625.20" width="5.05" height="15.50" fill="#FDC896" stroke="#000" stroke-width="1.7"/>
<rect x="559.71" y="579.80" width="5.05" height="45.40" fill="#FAAFF5" stroke="#000" stroke-width="1.7"/>
<rect x="559.71" y="573.60" width="5.05" height="6.20" fill="#9CDDA0" stroke="#000" stroke-width="1.7"/>
<rect x="559.71" y="553.30" width="5.05" height="20.30" fill="#C1B0D8" stroke="#000" stroke-width="1.7"/>
<rect x="559.71" y="528.60" width="5.05" height="24.70" fill="#FEFC98" stroke="#000" stroke-width="1.7"/>
<rect x="559.71" y="523.30" width="5.05" height="5.30" fill="#ACE1E8" stroke="#000" stroke-width="1.7"/>
<rect x="569.77" y="625.20" width="5.05" height="15.50" fill="#FDC896" stroke="#000" stroke-width="1.7"/>
<rect x="569.77" y="581.00" width="5.05" height="44.20" fill="#FAAFF5" stroke="#000" stroke-width="1.7"/>
<rect x="569.77" y="574.70" width="5.05" height="6.30" fill="#9CDDA0" stroke="#000" stroke-width="1.7"/>
<rect x="569.77" y="554.40" width="5.05" height="20.30" fill="#C1B0D8" stroke="#000" stroke-width="1.7"/>
<rect x="569.77" y="531.40" width="5.05" height="23.00" fill="#FEFC98" stroke="#000" stroke-width="1.7"/>
<rect x="569.77" y="526.10" width="5.05" height="5.30" fill="#ACE1E8" stroke="#000" stroke-width="1.7"/>
<rect x="579.84" y="627.50" width="5.05" height="13.20" fill="#FDC896" stroke="#000" stroke-width="1.7"/>
<rect x="579.84" y="588.30" width="5.05" height="39.20" fill="#FAAFF5" stroke="#000" stroke-width="1.7"/>
<rect x="579.84" y="582.80" width="5.05" height="5.50" fill="#9CDDA0" stroke="#000" stroke-width="1.7"/>
<rect x="579.84" y="565.30" width="5.05" height="17.50" fill="#C1B0D8" stroke="#000" stroke-width="1.7"/>
<rect x="579.84" y="544.50" width="5.05" height="20.80" fill="#FEFC98" stroke="#000" stroke-width="1.7"/>
<rect x="579.84" y="540.20" width="5.05" height="4.30" fill="#ACE1E8" stroke="#000" stroke-width="1.7"/>
<rect x="589.91" y="628.60" width="5.05" height="12.10" fill="#FDC896" stroke="#000" stroke-width="1.7"/>
<rect x="589.91" y="590.90" width="5.05" height="37.70" fill="#FAAFF5" stroke="#000" stroke-width="1.7"/>
<rect x="589.91" y="587.20" width="5.05" height="3.70" fill="#9CDDA0" stroke="#000" stroke-width="1.7"/>
<rect x="589.91" y="570.60" width="5.05" height="16.60" fill="#C1B0D8" stroke="#000" stroke-width="1.7"/>
<rect x="589.91" y="552.10" width="5.05" height="18.50" fill="#FEFC98" stroke="#000" stroke-width="1.7"/>
<rect x="589.91" y="548.70" width="5.05" height="3.40" fill="#ACE1E8" stroke="#000" stroke-width="1.7"/>
<rect x="599.98" y="605.60" width="5.05" height="35.10" fill="#FDC896" stroke="#000" stroke-width="1.7"/>
<rect x="599.98" y="565.30" width="5.05" height="40.30" fill="#FAAFF5" stroke="#000" stroke-width="1.7"/>
<rect x="599.98" y="558.60" width="5.05" height="6.70" fill="#9CDDA0" stroke="#000" stroke-width="1.7"/>
<rect x="599.98" y="536.50" width="5.05" height="22.10" fill="#C1B0D8" stroke="#000" stroke-width="1.7"/>
<rect x="599.98" y="509.50" width="5.05" height="27.00" fill="#FEFC98" stroke="#000" stroke-width="1.7"/>
<rect x="599.98" y="500.80" width="5.05" height="8.70" fill="#ACE1E8" stroke="#000" stroke-width="1.7"/>
<rect x="610.04" y="603.30" width="5.05" height="37.40" fill="#FDC896" stroke="#000" stroke-width="1.7"/>
<rect x="610.04" y="550.50" width="5.05" height="52.80" fill="#FAAFF5" stroke="#000" stroke-width="1.7"/>
<rect x="610.04" y="543.60" width="5.05" height="6.90" fill="#9CDDA0" stroke="#000" stroke-width="1.7"/>
<rect x="610.04" y="519.40" width="5.05" height="24.20" fill="#C1B0D8" stroke="#000" stroke-width="1.7"/>
<rect x="610.04" y="487.20" width="5.05" height="32.20" fill="#FEFC98" stroke="#000" stroke-width="1.7"/>
<rect x="610.04" y="478.40" width="5.05" height="8.80" fill="#ACE1E8" stroke="#000" stroke-width="1.7"/>
<rect x="620.11" y="620.10" width="5.05" height="20.60" fill="#FDC896" stroke="#000" stroke-width="1.7"/>
<rect x="620.11" y="581.40" width="5.05" height="38.70" fill="#FAAFF5" stroke="#000" stroke-width="1.7"/>
<rect x="620.11" y="576.80" width="5.05" height="4.60" fill="#9CDDA0" stroke="#000" stroke-width="1.7"/>
<rect x="620.11" y="554.40" width="5.05" height="22.40" fill="#C1B0D8" stroke="#000" stroke-width="1.7"/>
<rect x="620.11" y="525.60" width="5.05" height="28.80" fill="#FEFC98" stroke="#000" stroke-width="1.7"/>
<rect x="620.11" y="519.20" width="5.05" height="6.40" fill="#ACE1E8" stroke="#000" stroke-width="1.7"/>
<rect x="630.18" y="624.30" width="5.05" height="16.40" fill="#FDC896" stroke="#000" stroke-width="1.7"/>
<rect x="630.18" y="587.40" width="5.05" height="36.90" fill="#FAAFF5" stroke="#000" stroke-width="1.7"/>
<rect x="630.18" y="581.00" width="5.05" height="6.40" fill="#9CDDA0" stroke="#000" stroke-width="1.7"/>
<rect x="630.18" y="561.40" width="5.05" height="19.60" fill="#C1B0D8" stroke="#000" stroke-width="1.7"/>
<rect x="630.18" y="534.40" width="5.05" height="27.00" fill="#FEFC98" stroke="#000" stroke-width="1.7"/>
<rect x="630.18" y="527.50" width="5.05" height="6.90" fill="#ACE1E8" stroke="#000" stroke-width="1.7"/>
<rect x="640.25" y="638.10" width="5.05" height="2.60" fill="#FDC896" stroke="#000" stroke-width="1.7"/>
<rect x="640.25" y="624.30" width="5.05" height="13.80" fill="#FAAFF5" stroke="#000" stroke-width="1.7"/>
<rect x="640.25" y="622.00" width="5.05" height="2.30" fill="#9CDDA0" stroke="#000" stroke-width="1.7"/>
<rect x="640.25" y="616.70" width="5.05" height="5.30" fill="#C1B0D8" stroke="#000" stroke-width="1.7"/>
<rect x="640.25" y="607.40" width="5.05" height="9.30" fill="#FEFC98" stroke="#000" stroke-width="1.7"/>
<rect x="640.25" y="605.60" width="5.05" height="1.80" fill="#ACE1E8" stroke="#000" stroke-width="1.7"/>
<rect x="650.32" y="638.50" width="5.05" height="2.20" fill="#FDC896" stroke="#000" stroke-width="1.7"/>
<rect x="650.32" y="627.00" width="5.05" height="11.50" fill="#FAAFF5" stroke="#000" stroke-width="1.7"/>
<rect x="650.32" y="624.70" width="5.05" height="2.30" fill="#9CDDA0" stroke="#000" stroke-width="1.7"/>
<rect x="650.32" y="620.60" width="5.05" height="4.10" fill="#C1B0D8" stroke="#000" stroke-width="1.7"/>
<rect x="650.32" y="613.20" width="5.05" height="7.40" fill="#FEFC98" stroke="#000" stroke-width="1.7"/>
<rect x="650.32" y="611.40" width="5.05" height="1.80" fill="#ACE1E8" stroke="#000" stroke-width="1.7"/>
<rect x="660.38" y="633.50" width="5.05" height="7.20" fill="#FDC896" stroke="#000" stroke-width="1.7"/>
<rect x="660.38" y="616.70" width="5.05" height="16.80" fill="#FAAFF5" stroke="#000" stroke-width="1.7"/>
<rect x="660.38" y="609.00" width="5.05" height="7.70" fill="#9CDDA0" stroke="#000" stroke-width="1.7"/>
<rect x="660.38" y="604.00" width="5.05" height="5.00" fill="#C1B0D8" stroke="#000" stroke-width="1.7"/>
<rect x="660.38" y="599.80" width="5.05" height="4.20" fill="#FEFC98" stroke="#000" stroke-width="1.7"/>
<rect x="660.38" y="594.30" width="5.05" height="5.50" fill="#ACE1E8" stroke="#000" stroke-width="1.7"/>
<rect x="670.45" y="629.30" width="5.05" height="11.40" fill="#FDC896" stroke="#000" stroke-width="1.7"/>
<rect x="670.45" y="610.90" width="5.05" height="18.40" fill="#FAAFF5" stroke="#000" stroke-width="1.7"/>
<rect x="670.45" y="600.50" width="5.05" height="10.40" fill="#9CDDA0" stroke="#000" stroke-width="1.7"/>
<rect x="670.45" y="591.30" width="5.05" height="9.20" fill="#C1B0D8" stroke="#000" stroke-width="1.7"/>
<rect x="670.45" y="582.80" width="5.05" height="8.50" fill="#FEFC98" stroke="#000" stroke-width="1.7"/>
<rect x="670.45" y="575.90" width="5.05" height="6.90" fill="#ACE1E8" stroke="#000" stroke-width="1.7"/>
</g>
<g clip-path="url(#cb2)">
<rect x="86.51" y="668.90" width="5.05" height="17.60" fill="#FDC896" stroke="#000" stroke-width="1.7"/>
<rect x="86.51" y="686.50" width="5.05" height="72.40" fill="#FAAFF5" stroke="#000" stroke-width="1.7"/>
<rect x="86.51" y="758.90" width="5.05" height="11.20" fill="#9CDDA0" stroke="#000" stroke-width="1.7"/>
<rect x="86.51" y="770.10" width="5.05" height="34.60" fill="#C1B0D8" stroke="#000" stroke-width="1.7"/>
<rect x="86.51" y="804.70" width="5.05" height="45.30" fill="#FEFC98" stroke="#000" stroke-width="1.7"/>
<rect x="86.51" y="850.00" width="5.05" height="9.60" fill="#ACE1E8" stroke="#000" stroke-width="1.7"/>
<rect x="96.58" y="668.90" width="5.05" height="16.70" fill="#FDC896" stroke="#000" stroke-width="1.7"/>
<rect x="96.58" y="685.60" width="5.05" height="69.40" fill="#FAAFF5" stroke="#000" stroke-width="1.7"/>
<rect x="96.58" y="755.00" width="5.05" height="10.90" fill="#9CDDA0" stroke="#000" stroke-width="1.7"/>
<rect x="96.58" y="765.90" width="5.05" height="33.00" fill="#C1B0D8" stroke="#000" stroke-width="1.7"/>
<rect x="96.58" y="798.90" width="5.05" height="42.50" fill="#FEFC98" stroke="#000" stroke-width="1.7"/>
<rect x="96.58" y="841.40" width="5.05" height="9.10" fill="#ACE1E8" stroke="#000" stroke-width="1.7"/>
<rect x="106.64" y="668.90" width="5.05" height="16.70" fill="#FDC896" stroke="#000" stroke-width="1.7"/>
<rect x="106.64" y="685.60" width="5.05" height="67.70" fill="#FAAFF5" stroke="#000" stroke-width="1.7"/>
<rect x="106.64" y="753.30" width="5.05" height="9.40" fill="#9CDDA0" stroke="#000" stroke-width="1.7"/>
<rect x="106.64" y="762.70" width="5.05" height="32.40" fill="#C1B0D8" stroke="#000" stroke-width="1.7"/>
<rect x="106.64" y="795.10" width="5.05" height="41.50" fill="#FEFC98" stroke="#000" stroke-width="1.7"/>
<rect x="106.64" y="836.60" width="5.05" height="9.20" fill="#ACE1E8" stroke="#000" stroke-width="1.7"/>
<rect x="116.71" y="668.90" width="5.05" height="15.30" fill="#FDC896" stroke="#000" stroke-width="1.7"/>
<rect x="116.71" y="684.20" width="5.05" height="62.60" fill="#FAAFF5" stroke="#000" stroke-width="1.7"/>
<rect x="116.71" y="746.80" width="5.05" height="9.80" fill="#9CDDA0" stroke="#000" stroke-width="1.7"/>
<rect x="116.71" y="756.60" width="5.05" height="29.40" fill="#C1B0D8" stroke="#000" stroke-width="1.7"/>
<rect x="116.71" y="786.00" width="5.05" height="39.00" fill="#FEFC98" stroke="#000" stroke-width="1.7"/>
<rect x="116.71" y="825.00" width="5.05" height="7.80" fill="#ACE1E8" stroke="#000" stroke-width="1.7"/>
<rect x="126.78" y="668.90" width="5.05" height="3.10" fill="#FDC896" stroke="#000" stroke-width="1.7"/>
<rect x="126.78" y="672.00" width="5.05" height="12.90" fill="#FAAFF5" stroke="#000" stroke-width="1.7"/>
<rect x="126.78" y="684.90" width="5.05" height="3.50" fill="#9CDDA0" stroke="#000" stroke-width="1.7"/>
<rect x="126.78" y="688.40" width="5.05" height="7.00" fill="#C1B0D8" stroke="#000" stroke-width="1.7"/>
<rect x="126.78" y="695.40" width="5.05" height="11.20" fill="#FEFC98" stroke="#000" stroke-width="1.7"/>
<rect x="126.78" y="706.60" width="5.05" height="2.30" fill="#ACE1E8" stroke="#000" stroke-width="1.7"/>
<rect x="136.85" y="668.90" width="5.05" height="3.10" fill="#FDC896" stroke="#000" stroke-width="1.7"/>
<rect x="136.85" y="672.00" width="5.05" height="13.60" fill="#FAAFF5" stroke="#000" stroke-width="1.7"/>
<rect x="136.85" y="685.60" width="5.05" height="4.60" fill="#9CDDA0" stroke="#000" stroke-width="1.7"/>
<rect x="136.85" y="690.20" width="5.05" height="7.00" fill="#C1B0D8" stroke="#000" stroke-width="1.7"/>
<rect x="136.85" y="697.20" width="5.05" height="11.00" fill="#FEFC98" stroke="#000" stroke-width="1.7"/>
<rect x="136.85" y="708.20" width="5.05" height="3.10" fill="#ACE1E8" stroke="#000" stroke-width="1.7"/>
<rect x="146.92" y="668.90" width="5.05" height="5.90" fill="#FDC896" stroke="#000" stroke-width="1.7"/>
<rect x="146.92" y="674.80" width="5.05" height="24.10" fill="#FAAFF5" stroke="#000" stroke-width="1.7"/>
<rect x="146.92" y="698.90" width="5.05" height="5.40" fill="#9CDDA0" stroke="#000" stroke-width="1.7"/>
<rect x="146.92" y="704.30" width="5.05" height="12.10" fill="#C1B0D8" stroke="#000" stroke-width="1.7"/>
<rect x="146.92" y="716.40" width="5.05" height="15.90" fill="#FEFC98" stroke="#000" stroke-width="1.7"/>
<rect x="146.92" y="732.30" width="5.05" height="3.30" fill="#ACE1E8" stroke="#000" stroke-width="1.7"/>
<rect x="156.98" y="668.90" width="5.05" height="6.60" fill="#FDC896" stroke="#000" stroke-width="1.7"/>
<rect x="156.98" y="675.50" width="5.05" height="32.70" fill="#FAAFF5" stroke="#000" stroke-width="1.7"/>
<rect x="156.98" y="708.20" width="5.05" height="7.00" fill="#9CDDA0" stroke="#000" stroke-width="1.7"/>
<rect x="156.98" y="715.20" width="5.05" height="15.90" fill="#C1B0D8" stroke="#000" stroke-width="1.7"/>
<rect x="156.98" y="731.10" width="5.05" height="20.30" fill="#FEFC98" stroke="#000" stroke-width="1.7"/>
<rect x="156.98" y="751.40" width="5.05" height="4.70" fill="#ACE1E8" stroke="#000" stroke-width="1.7"/>
<rect x="167.05" y="668.90" width="5.05" height="6.10" fill="#FDC896" stroke="#000" stroke-width="1.7"/>
<rect x="167.05" y="675.00" width="5.05" height="32.10" fill="#FAAFF5" stroke="#000" stroke-width="1.7"/>
<rect x="167.05" y="707.10" width="5.05" height="5.80" fill="#9CDDA0" stroke="#000" stroke-width="1.7"/>
<rect x="167.05" y="712.90" width="5.05" height="15.20" fill="#C1B0D8" stroke="#000" stroke-width="1.7"/>
<rect x="167.05" y="728.10" width="5.05" height="19.10" fill="#FEFC98" stroke="#000" stroke-width="1.7"/>
<rect x="167.05" y="747.20" width="5.05" height="4.70" fill="#ACE1E8" stroke="#000" stroke-width="1.7"/>
<rect x="177.12" y="668.90" width="5.05" height="5.90" fill="#FDC896" stroke="#000" stroke-width="1.7"/>
<rect x="177.12" y="674.80" width="5.05" height="29.50" fill="#FAAFF5" stroke="#000" stroke-width="1.7"/>
<rect x="177.12" y="704.30" width="5.05" height="6.30" fill="#9CDDA0" stroke="#000" stroke-width="1.7"/>
<rect x="177.12" y="710.60" width="5.05" height="14.70" fill="#C1B0D8" stroke="#000" stroke-width="1.7"/>
<rect x="177.12" y="725.30" width="5.05" height="18.00" fill="#FEFC98" stroke="#000" stroke-width="1.7"/>
<rect x="177.12" y="743.30" width="5.05" height="3.90" fill="#ACE1E8" stroke="#000" stroke-width="1.7"/>
<rect x="187.19" y="668.90" width="5.05" height="6.60" fill="#FDC896" stroke="#000" stroke-width="1.7"/>
<rect x="187.19" y="675.50" width="5.05" height="29.20" fill="#FAAFF5" stroke="#000" stroke-width="1.7"/>
<rect x="187.19" y="704.70" width="5.05" height="5.20" fill="#9CDDA0" stroke="#000" stroke-width="1.7"/>
<rect x="187.19" y="709.90" width="5.05" height="17.00" fill="#C1B0D8" stroke="#000" stroke-width="1.7"/>
<rect x="187.19" y="726.90" width="5.05" height="17.10" fill="#FEFC98" stroke="#000" stroke-width="1.7"/>
<rect x="187.19" y="744.00" width="5.05" height="3.90" fill="#ACE1E8" stroke="#000" stroke-width="1.7"/>
<rect x="197.26" y="668.90" width="5.05" height="7.80" fill="#FDC896" stroke="#000" stroke-width="1.7"/>
<rect x="197.26" y="676.70" width="5.05" height="35.00" fill="#FAAFF5" stroke="#000" stroke-width="1.7"/>
<rect x="197.26" y="711.70" width="5.05" height="7.00" fill="#9CDDA0" stroke="#000" stroke-width="1.7"/>
<rect x="197.26" y="718.70" width="5.05" height="21.10" fill="#C1B0D8" stroke="#000" stroke-width="1.7"/>
<rect x="197.26" y="739.80" width="5.05" height="20.50" fill="#FEFC98" stroke="#000" stroke-width="1.7"/>
<rect x="197.26" y="760.30" width="5.05" height="4.70" fill="#ACE1E8" stroke="#000" stroke-width="1.7"/>
<rect x="207.32" y="668.90" width="5.05" height="7.80" fill="#FDC896" stroke="#000" stroke-width="1.7"/>
<rect x="207.32" y="676.70" width="5.05" height="36.70" fill="#FAAFF5" stroke="#000" stroke-width="1.7"/>
<rect x="207.32" y="713.40" width="5.05" height="7.00" fill="#9CDDA0" stroke="#000" stroke-width="1.7"/>
<rect x="207.32" y="720.40" width="5.05" height="21.00" fill="#C1B0D8" stroke="#000" stroke-width="1.7"/>
<rect x="207.32" y="741.40" width="5.05" height="21.30" fill="#FEFC98" stroke="#000" stroke-width="1.7"/>
<rect x="207.32" y="762.70" width="5.05" height="5.10" fill="#ACE1E8" stroke="#000" stroke-width="1.7"/>
<rect x="217.39" y="668.90" width="5.05" height="8.50" fill="#FDC896" stroke="#000" stroke-width="1.7"/>
<rect x="217.39" y="677.40" width="5.05" height="37.40" fill="#FAAFF5" stroke="#000" stroke-width="1.7"/>
<rect x="217.39" y="714.80" width="5.05" height="8.10" fill="#9CDDA0" stroke="#000" stroke-width="1.7"/>
<rect x="217.39" y="722.90" width="5.05" height="22.70" fill="#C1B0D8" stroke="#000" stroke-width="1.7"/>
<rect x="217.39" y="745.60" width="5.05" height="22.20" fill="#FEFC98" stroke="#000" stroke-width="1.7"/>
<rect x="217.39" y="767.80" width="5.05" height="5.80" fill="#ACE1E8" stroke="#000" stroke-width="1.7"/>
<rect x="227.46" y="668.90" width="5.05" height="9.70" fill="#FDC896" stroke="#000" stroke-width="1.7"/>
<rect x="227.46" y="678.60" width="5.05" height="40.60" fill="#FAAFF5" stroke="#000" stroke-width="1.7"/>
<rect x="227.46" y="719.20" width="5.05" height="8.40" fill="#9CDDA0" stroke="#000" stroke-width="1.7"/>
<rect x="227.46" y="727.60" width="5.05" height="24.30" fill="#C1B0D8" stroke="#000" stroke-width="1.7"/>
<rect x="227.46" y="751.90" width="5.05" height="24.50" fill="#FEFC98" stroke="#000" stroke-width="1.7"/>
<rect x="227.46" y="776.40" width="5.05" height="5.40" fill="#ACE1E8" stroke="#000" stroke-width="1.7"/>
<rect x="237.53" y="668.90" width="5.05" height="4.30" fill="#FDC896" stroke="#000" stroke-width="1.7"/>
<rect x="237.53" y="673.20" width="5.05" height="18.70" fill="#FAAFF5" stroke="#000" stroke-width="1.7"/>
<rect x="237.53" y="691.90" width="5.05" height="3.50" fill="#9CDDA0" stroke="#000" stroke-width="1.7"/>
<rect x="237.53" y="695.40" width="5.05" height="8.90" fill="#C1B0D8" stroke="#000" stroke-width="1.7"/>
<rect x="237.53" y="704.30" width="5.05" height="10.50" fill="#FEFC98" stroke="#000" stroke-width="1.7"/>
<rect x="237.53" y="714.80" width="5.05" height="2.30" fill="#ACE1E8" stroke="#000" stroke-width="1.7"/>
<rect x="247.60" y="668.90" width="5.05" height="5.40" fill="#FDC896" stroke="#000" stroke-width="1.7"/>
<rect x="247.60" y="674.30" width="5.05" height="22.90" fill="#FAAFF5" stroke="#000" stroke-width="1.7"/>
<rect x="247.60" y="697.20" width="5.05" height="4.50" fill="#9CDDA0" stroke="#000" stroke-width="1.7"/>
<rect x="247.60" y="701.70" width="5.05" height="11.20" fill="#C1B0D8" stroke="#000" stroke-width="1.7"/>
<rect x="247.60" y="712.90" width="5.05" height="13.50" fill="#FEFC98" stroke="#000" stroke-width="1.7"/>
<rect x="247.60" y="726.40" width="5.05" height="3.30" fill="#ACE1E8" stroke="#000" stroke-width="1.7"/>
<rect x="257.67" y="668.90" width="5.05" height="4.30" fill="#FDC896" stroke="#000" stroke-width="1.7"/>
<rect x="257.67" y="673.20" width="5.05" height="22.20" fill="#FAAFF5" stroke="#000" stroke-width="1.7"/>
<rect x="257.67" y="695.40" width="5.05" height="4.20" fill="#9CDDA0" stroke="#000" stroke-width="1.7"/>
<rect x="257.67" y="699.60" width="5.05" height="10.50" fill="#C1B0D8" stroke="#000" stroke-width="1.7"/>
<rect x="257.67" y="710.10" width="5.05" height="12.80" fill="#FEFC98" stroke="#000" stroke-width="1.7"/>
<rect x="257.67" y="722.90" width="5.05" height="2.80" fill="#ACE1E8" stroke="#000" stroke-width="1.7"/>
<rect x="267.73" y="668.90" width="5.05" height="10.60" fill="#FDC896" stroke="#000" stroke-width="1.7"/>
<rect x="267.73" y="679.50" width="5.05" height="43.20" fill="#FAAFF5" stroke="#000" stroke-width="1.7"/>
<rect x="267.73" y="722.70" width="5.05" height="8.40" fill="#9CDDA0" stroke="#000" stroke-width="1.7"/>
<rect x="267.73" y="731.10" width="5.05" height="16.80" fill="#C1B0D8" stroke="#000" stroke-width="1.7"/>
<rect x="267.73" y="747.90" width="5.05" height="21.10" fill="#FEFC98" stroke="#000" stroke-width="1.7"/>
<rect x="267.73" y="769.00" width="5.05" height="5.80" fill="#ACE1E8" stroke="#000" stroke-width="1.7"/>
<rect x="277.80" y="668.90" width="5.05" height="16.70" fill="#FDC896" stroke="#000" stroke-width="1.7"/>
<rect x="277.80" y="685.60" width="5.05" height="60.70" fill="#FAAFF5" stroke="#000" stroke-width="1.7"/>
<rect x="277.80" y="746.30" width="5.05" height="11.70" fill="#9CDDA0" stroke="#000" stroke-width="1.7"/>
<rect x="277.80" y="758.00" width="5.05" height="24.50" fill="#C1B0D8" stroke="#000" stroke-width="1.7"/>
<rect x="277.80" y="782.50" width="5.05" height="30.20" fill="#FEFC98" stroke="#000" stroke-width="1.7"/>
<rect x="277.80" y="812.70" width="5.05" height="8.10" fill="#ACE1E8" stroke="#000" stroke-width="1.7"/>
<rect x="287.87" y="668.90" width="5.05" height="17.60" fill="#FDC896" stroke="#000" stroke-width="1.7"/>
<rect x="287.87" y="686.50" width="5.05" height="68.00" fill="#FAAFF5" stroke="#000" stroke-width="1.7"/>
<rect x="287.87" y="754.50" width="5.05" height="12.10" fill="#9CDDA0" stroke="#000" stroke-width="1.7"/>
<rect x="287.87" y="766.60" width="5.05" height="26.90" fill="#C1B0D8" stroke="#000" stroke-width="1.7"/>
<rect x="287.87" y="793.50" width="5.05" height="33.90" fill="#FEFC98" stroke="#000" stroke-width="1.7"/>
<rect x="287.87" y="827.40" width="5.05" height="8.20" fill="#ACE1E8" stroke="#000" stroke-width="1.7"/>
<rect x="297.94" y="668.90" width="5.05" height="12.50" fill="#FDC896" stroke="#000" stroke-width="1.7"/>
<rect x="297.94" y="681.40" width="5.05" height="49.00" fill="#FAAFF5" stroke="#000" stroke-width="1.7"/>
<rect x="297.94" y="730.40" width="5.05" height="9.40" fill="#9CDDA0" stroke="#000" stroke-width="1.7"/>
<rect x="297.94" y="739.80" width="5.05" height="19.10" fill="#C1B0D8" stroke="#000" stroke-width="1.7"/>
<rect x="297.94" y="758.90" width="5.05" height="24.10" fill="#FEFC98" stroke="#000" stroke-width="1.7"/>
<rect x="297.94" y="783.00" width="5.05" height="5.80" fill="#ACE1E8" stroke="#000" stroke-width="1.7"/>
<rect x="308.00" y="668.90" width="5.05" height="12.00" fill="#FDC896" stroke="#000" stroke-width="1.7"/>
<rect x="308.00" y="680.90" width="5.05" height="46.70" fill="#FAAFF5" stroke="#000" stroke-width="1.7"/>
<rect x="308.00" y="727.60" width="5.05" height="8.70" fill="#9CDDA0" stroke="#000" stroke-width="1.7"/>
<rect x="308.00" y="736.30" width="5.05" height="18.70" fill="#C1B0D8" stroke="#000" stroke-width="1.7"/>
<rect x="308.00" y="755.00" width="5.05" height="22.60" fill="#FEFC98" stroke="#000" stroke-width="1.7"/>
<rect x="308.00" y="777.60" width="5.05" height="5.90" fill="#ACE1E8" stroke="#000" stroke-width="1.7"/>
<rect x="318.07" y="668.90" width="5.05" height="11.30" fill="#FDC896" stroke="#000" stroke-width="1.7"/>
<rect x="318.07" y="680.20" width="5.05" height="46.00" fill="#FAAFF5" stroke="#000" stroke-width="1.7"/>
<rect x="318.07" y="726.20" width="5.05" height="8.40" fill="#9CDDA0" stroke="#000" stroke-width="1.7"/>
<rect x="318.07" y="734.60" width="5.05" height="19.70" fill="#C1B0D8" stroke="#000" stroke-width="1.7"/>
<rect x="318.07" y="754.30" width="5.05" height="21.70" fill="#FEFC98" stroke="#000" stroke-width="1.7"/>
<rect x="318.07" y="776.00" width="5.05" height="5.80" fill="#ACE1E8" stroke="#000" stroke-width="1.7"/>
<rect x="328.14" y="668.90" width="5.05" height="10.60" fill="#FDC896" stroke="#000" stroke-width="1.7"/>
<rect x="328.14" y="679.50" width="5.05" height="38.80" fill="#FAAFF5" stroke="#000" stroke-width="1.7"/>
<rect x="328.14" y="718.30" width="5.05" height="7.90" fill="#9CDDA0" stroke="#000" stroke-width="1.7"/>
<rect x="328.14" y="726.20" width="5.05" height="15.40" fill="#C1B0D8" stroke="#000" stroke-width="1.7"/>
<rect x="328.14" y="741.60" width="5.05" height="19.20" fill="#FEFC98" stroke="#000" stroke-width="1.7"/>
<rect x="328.14" y="760.80" width="5.05" height="5.10" fill="#ACE1E8" stroke="#000" stroke-width="1.7"/>
<rect x="338.21" y="668.90" width="5.05" height="10.60" fill="#FDC896" stroke="#000" stroke-width="1.7"/>
<rect x="338.21" y="679.50" width="5.05" height="41.10" fill="#FAAFF5" stroke="#000" stroke-width="1.7"/>
<rect x="338.21" y="720.60" width="5.05" height="8.00" fill="#9CDDA0" stroke="#000" stroke-width="1.7"/>
<rect x="338.21" y="728.60" width="5.05" height="16.30" fill="#C1B0D8" stroke="#000" stroke-width="1.7"/>
<rect x="338.21" y="744.90" width="5.05" height="20.10" fill="#FEFC98" stroke="#000" stroke-width="1.7"/>
<rect x="338.21" y="765.00" width="5.05" height="5.80" fill="#ACE1E8" stroke="#000" stroke-width="1.7"/>
<rect x="348.28" y="668.90" width="5.05" height="10.10" fill="#FDC896" stroke="#000" stroke-width="1.7"/>
<rect x="348.28" y="679.00" width="5.05" height="39.30" fill="#FAAFF5" stroke="#000" stroke-width="1.7"/>
<rect x="348.28" y="718.30" width="5.05" height="7.00" fill="#9CDDA0" stroke="#000" stroke-width="1.7"/>
<rect x="348.28" y="725.30" width="5.05" height="15.60" fill="#C1B0D8" stroke="#000" stroke-width="1.7"/>
<rect x="348.28" y="740.90" width="5.05" height="18.70" fill="#FEFC98" stroke="#000" stroke-width="1.7"/>
<rect x="348.28" y="759.60" width="5.05" height="5.40" fill="#ACE1E8" stroke="#000" stroke-width="1.7"/>
<rect x="358.35" y="668.90" width="5.05" height="9.00" fill="#FDC896" stroke="#000" stroke-width="1.7"/>
<rect x="358.35" y="677.90" width="5.05" height="37.30" fill="#FAAFF5" stroke="#000" stroke-width="1.7"/>
<rect x="358.35" y="715.20" width="5.05" height="7.00" fill="#9CDDA0" stroke="#000" stroke-width="1.7"/>
<rect x="358.35" y="722.20" width="5.05" height="15.20" fill="#C1B0D8" stroke="#000" stroke-width="1.7"/>
<rect x="358.35" y="737.40" width="5.05" height="18.30" fill="#FEFC98" stroke="#000" stroke-width="1.7"/>
<rect x="358.35" y="755.70" width="5.05" height="4.60" fill="#ACE1E8" stroke="#000" stroke-width="1.7"/>
<rect x="368.41" y="668.90" width="5.05" height="5.90" fill="#FDC896" stroke="#000" stroke-width="1.7"/>
<rect x="368.41" y="674.80" width="5.05" height="25.20" fill="#FAAFF5" stroke="#000" stroke-width="1.7"/>
<rect x="368.41" y="700.00" width="5.05" height="4.30" fill="#9CDDA0" stroke="#000" stroke-width="1.7"/>
<rect x="368.41" y="704.30" width="5.05" height="10.20" fill="#C1B0D8" stroke="#000" stroke-width="1.7"/>
<rect x="368.41" y="714.50" width="5.05" height="12.40" fill="#FEFC98" stroke="#000" stroke-width="1.7"/>
<rect x="368.41" y="726.90" width="5.05" height="3.10" fill="#ACE1E8" stroke="#000" stroke-width="1.7"/>
<rect x="378.48" y="668.90" width="5.05" height="9.00" fill="#FDC896" stroke="#000" stroke-width="1.7"/>
<rect x="378.48" y="677.90" width="5.05" height="35.50" fill="#FAAFF5" stroke="#000" stroke-width="1.7"/>
<rect x="378.48" y="713.40" width="5.05" height="7.20" fill="#9CDDA0" stroke="#000" stroke-width="1.7"/>
<rect x="378.48" y="720.60" width="5.05" height="14.00" fill="#C1B0D8" stroke="#000" stroke-width="1.7"/>
<rect x="378.48" y="734.60" width="5.05" height="17.30" fill="#FEFC98" stroke="#000" stroke-width="1.7"/>
<rect x="378.48" y="751.90" width="5.05" height="4.20" fill="#ACE1E8" stroke="#000" stroke-width="1.7"/>
<rect x="388.55" y="668.90" width="5.05" height="8.20" fill="#FDC896" stroke="#000" stroke-width="1.7"/>
<rect x="388.55" y="677.10" width="5.05" height="31.80" fill="#FAAFF5" stroke="#000" stroke-width="1.7"/>
<rect x="388.55" y="708.90" width="5.05" height="5.60" fill="#9CDDA0" stroke="#000" stroke-width="1.7"/>
<rect x="388.55" y="714.50" width="5.05" height="13.60" fill="#C1B0D8" stroke="#000" stroke-width="1.7"/>
<rect x="388.55" y="728.10" width="5.05" height="15.20" fill="#FEFC98" stroke="#000" stroke-width="1.7"/>
<rect x="388.55" y="743.30" width="5.05" height="3.90" fill="#ACE1E8" stroke="#000" stroke-width="1.7"/>
<rect x="398.62" y="668.90" width="5.05" height="8.20" fill="#FDC896" stroke="#000" stroke-width="1.7"/>
<rect x="398.62" y="677.10" width="5.05" height="32.80" fill="#FAAFF5" stroke="#000" stroke-width="1.7"/>
<rect x="398.62" y="709.90" width="5.05" height="6.00" fill="#9CDDA0" stroke="#000" stroke-width="1.7"/>
<rect x="398.62" y="715.90" width="5.05" height="13.40" fill="#C1B0D8" stroke="#000" stroke-width="1.7"/>
<rect x="398.62" y="729.30" width="5.05" height="15.80" fill="#FEFC98" stroke="#000" stroke-width="1.7"/>
<rect x="398.62" y="745.10" width="5.05" height="3.50" fill="#ACE1E8" stroke="#000" stroke-width="1.7"/>
<rect x="408.69" y="668.90" width="5.05" height="10.60" fill="#FDC896" stroke="#000" stroke-width="1.7"/>
<rect x="408.69" y="679.50" width="5.05" height="43.40" fill="#FAAFF5" stroke="#000" stroke-width="1.7"/>
<rect x="408.69" y="722.90" width="5.05" height="8.00" fill="#9CDDA0" stroke="#000" stroke-width="1.7"/>
<rect x="408.69" y="730.90" width="5.05" height="17.00" fill="#C1B0D8" stroke="#000" stroke-width="1.7"/>
<rect x="408.69" y="747.90" width="5.05" height="20.60" fill="#FEFC98" stroke="#000" stroke-width="1.7"/>
<rect x="408.69" y="768.50" width="5.05" height="5.60" fill="#ACE1E8" stroke="#000" stroke-width="1.7"/>
<rect x="418.75" y="668.90" width="5.05" height="5.40" fill="#FDC896" stroke="#000" stroke-width="1.7"/>
<rect x="418.75" y="674.30" width="5.05" height="22.20" fill="#FAAFF5" stroke="#000" stroke-width="1.7"/>
<rect x="418.75" y="696.50" width="5.05" height="4.00" fill="#9CDDA0" stroke="#000" stroke-width="1.7"/>
<rect x="418.75" y="700.50" width="5.05" height="11.90" fill="#C1B0D8" stroke="#000" stroke-width="1.7"/>
<rect x="418.75" y="712.40" width="5.05" height="12.90" fill="#FEFC98" stroke="#000" stroke-width="1.7"/>
<rect x="418.75" y="725.30" width="5.05" height="3.30" fill="#ACE1E8" stroke="#000" stroke-width="1.7"/>
<rect x="428.82" y="668.90" width="5.05" height="6.60" fill="#FDC896" stroke="#000" stroke-width="1.7"/>
<rect x="428.82" y="675.50" width="5.05" height="24.10" fill="#FAAFF5" stroke="#000" stroke-width="1.7"/>
<rect x="428.82" y="699.60" width="5.05" height="4.70" fill="#9CDDA0" stroke="#000" stroke-width="1.7"/>
<rect x="428.82" y="704.30" width="5.05" height="12.60" fill="#C1B0D8" stroke="#000" stroke-width="1.7"/>
<rect x="428.82" y="716.90" width="5.05" height="14.00" fill="#FEFC98" stroke="#000" stroke-width="1.7"/>
<rect x="428.82" y="730.90" width="5.05" height="3.30" fill="#ACE1E8" stroke="#000" stroke-width="1.7"/>
<rect x="438.89" y="668.90" width="5.05" height="12.90" fill="#FDC896" stroke="#000" stroke-width="1.7"/>
<rect x="438.89" y="681.80" width="5.05" height="48.20" fill="#FAAFF5" stroke="#000" stroke-width="1.7"/>
<rect x="438.89" y="730.00" width="5.05" height="9.30" fill="#9CDDA0" stroke="#000" stroke-width="1.7"/>
<rect x="438.89" y="739.30" width="5.05" height="23.80" fill="#C1B0D8" stroke="#000" stroke-width="1.7"/>
<rect x="438.89" y="763.10" width="5.05" height="29.20" fill="#FEFC98" stroke="#000" stroke-width="1.7"/>
<rect x="438.89" y="792.30" width="5.05" height="7.50" fill="#ACE1E8" stroke="#000" stroke-width="1.7"/>
<rect x="448.96" y="668.90" width="5.05" height="10.60" fill="#FDC896" stroke="#000" stroke-width="1.7"/>
<rect x="448.96" y="679.50" width="5.05" height="42.00" fill="#FAAFF5" stroke="#000" stroke-width="1.7"/>
<rect x="448.96" y="721.50" width="5.05" height="8.90" fill="#9CDDA0" stroke="#000" stroke-width="1.7"/>
<rect x="448.96" y="730.40" width="5.05" height="21.50" fill="#C1B0D8" stroke="#000" stroke-width="1.7"/>
<rect x="448.96" y="751.90" width="5.05" height="25.20" fill="#FEFC98" stroke="#000" stroke-width="1.7"/>
<rect x="448.96" y="777.10" width="5.05" height="5.90" fill="#ACE1E8" stroke="#000" stroke-width="1.7"/>
<rect x="459.03" y="668.90" width="5.05" height="10.60" fill="#FDC896" stroke="#000" stroke-width="1.7"/>
<rect x="459.03" y="679.50" width="5.05" height="40.40" fill="#FAAFF5" stroke="#000" stroke-width="1.7"/>
<rect x="459.03" y="719.90" width="5.05" height="7.70" fill="#9CDDA0" stroke="#000" stroke-width="1.7"/>
<rect x="459.03" y="727.60" width="5.05" height="20.30" fill="#C1B0D8" stroke="#000" stroke-width="1.7"/>
<rect x="459.03" y="747.90" width="5.05" height="24.10" fill="#FEFC98" stroke="#000" stroke-width="1.7"/>
<rect x="459.03" y="772.00" width="5.05" height="5.60" fill="#ACE1E8" stroke="#000" stroke-width="1.7"/>
<rect x="469.09" y="668.90" width="5.05" height="9.70" fill="#FDC896" stroke="#000" stroke-width="1.7"/>
<rect x="469.09" y="678.60" width="5.05" height="38.30" fill="#FAAFF5" stroke="#000" stroke-width="1.7"/>
<rect x="469.09" y="716.90" width="5.05" height="7.70" fill="#9CDDA0" stroke="#000" stroke-width="1.7"/>
<rect x="469.09" y="724.60" width="5.05" height="19.80" fill="#C1B0D8" stroke="#000" stroke-width="1.7"/>
<rect x="469.09" y="744.40" width="5.05" height="21.50" fill="#FEFC98" stroke="#000" stroke-width="1.7"/>
<rect x="469.09" y="765.90" width="5.05" height="6.10" fill="#ACE1E8" stroke="#000" stroke-width="1.7"/>
<rect x="479.16" y="668.90" width="5.05" height="9.00" fill="#FDC896" stroke="#000" stroke-width="1.7"/>
<rect x="479.16" y="677.90" width="5.05" height="42.70" fill="#FAAFF5" stroke="#000" stroke-width="1.7"/>
<rect x="479.16" y="720.60" width="5.05" height="8.00" fill="#9CDDA0" stroke="#000" stroke-width="1.7"/>
<rect x="479.16" y="728.60" width="5.05" height="16.30" fill="#C1B0D8" stroke="#000" stroke-width="1.7"/>
<rect x="479.16" y="744.90" width="5.05" height="20.60" fill="#FEFC98" stroke="#000" stroke-width="1.7"/>
<rect x="479.16" y="765.50" width="5.05" height="4.20" fill="#ACE1E8" stroke="#000" stroke-width="1.7"/>
<rect x="489.23" y="668.90" width="5.05" height="6.60" fill="#FDC896" stroke="#000" stroke-width="1.7"/>
<rect x="489.23" y="675.50" width="5.05" height="35.10" fill="#FAAFF5" stroke="#000" stroke-width="1.7"/>
<rect x="489.23" y="710.60" width="5.05" height="6.30" fill="#9CDDA0" stroke="#000" stroke-width="1.7"/>
<rect x="489.23" y="716.90" width="5.05" height="12.40" fill="#C1B0D8" stroke="#000" stroke-width="1.7"/>
<rect x="489.23" y="729.30" width="5.05" height="17.00" fill="#FEFC98" stroke="#000" stroke-width="1.7"/>
<rect x="489.23" y="746.30" width="5.05" height="3.30" fill="#ACE1E8" stroke="#000" stroke-width="1.7"/>
<rect x="499.30" y="668.90" width="5.05" height="4.30" fill="#FDC896" stroke="#000" stroke-width="1.7"/>
<rect x="499.30" y="673.20" width="5.05" height="23.80" fill="#FAAFF5" stroke="#000" stroke-width="1.7"/>
<rect x="499.30" y="697.00" width="5.05" height="4.20" fill="#9CDDA0" stroke="#000" stroke-width="1.7"/>
<rect x="499.30" y="701.20" width="5.05" height="8.70" fill="#C1B0D8" stroke="#000" stroke-width="1.7"/>
<rect x="499.30" y="709.90" width="5.05" height="11.20" fill="#FEFC98" stroke="#000" stroke-width="1.7"/>
<rect x="499.30" y="721.10" width="5.05" height="2.30" fill="#ACE1E8" stroke="#000" stroke-width="1.7"/>
<rect x="509.37" y="668.90" width="5.05" height="5.40" fill="#FDC896" stroke="#000" stroke-width="1.7"/>
<rect x="509.37" y="674.30" width="5.05" height="25.70" fill="#FAAFF5" stroke="#000" stroke-width="1.7"/>
<rect x="509.37" y="700.00" width="5.05" height="4.70" fill="#9CDDA0" stroke="#000" stroke-width="1.7"/>
<rect x="509.37" y="704.70" width="5.05" height="9.80" fill="#C1B0D8" stroke="#000" stroke-width="1.7"/>
<rect x="509.37" y="714.50" width="5.05" height="12.90" fill="#FEFC98" stroke="#000" stroke-width="1.7"/>
<rect x="509.37" y="727.40" width="5.05" height="2.30" fill="#ACE1E8" stroke="#000" stroke-width="1.7"/>
<rect x="519.43" y="668.90" width="5.05" height="4.30" fill="#FDC896" stroke="#000" stroke-width="1.7"/>
<rect x="519.43" y="673.20" width="5.05" height="26.80" fill="#FAAFF5" stroke="#000" stroke-width="1.7"/>
<rect x="519.43" y="700.00" width="5.05" height="4.30" fill="#9CDDA0" stroke="#000" stroke-width="1.7"/>
<rect x="519.43" y="704.30" width="5.05" height="9.80" fill="#C1B0D8" stroke="#000" stroke-width="1.7"/>
<rect x="519.43" y="714.10" width="5.05" height="12.10" fill="#FEFC98" stroke="#000" stroke-width="1.7"/>
<rect x="519.43" y="726.20" width="5.05" height="3.10" fill="#ACE1E8" stroke="#000" stroke-width="1.7"/>
<rect x="529.50" y="668.90" width="5.05" height="5.90" fill="#FDC896" stroke="#000" stroke-width="1.7"/>
<rect x="529.50" y="674.80" width="5.05" height="31.10" fill="#FAAFF5" stroke="#000" stroke-width="1.7"/>
<rect x="529.50" y="705.90" width="5.05" height="5.80" fill="#9CDDA0" stroke="#000" stroke-width="1.7"/>
<rect x="529.50" y="711.70" width="5.05" height="11.20" fill="#C1B0D8" stroke="#000" stroke-width="1.7"/>
<rect x="529.50" y="722.90" width="5.05" height="15.00" fill="#FEFC98" stroke="#000" stroke-width="1.7"/>
<rect x="529.50" y="737.90" width="5.05" height="3.00" fill="#ACE1E8" stroke="#000" stroke-width="1.7"/>
<rect x="539.57" y="668.90" width="5.05" height="19.00" fill="#FDC896" stroke="#000" stroke-width="1.7"/>
<rect x="539.57" y="687.90" width="5.05" height="76.40" fill="#FAAFF5" stroke="#000" stroke-width="1.7"/>
<rect x="539.57" y="764.30" width="5.05" height="6.30" fill="#9CDDA0" stroke="#000" stroke-width="1.7"/>
<rect x="539.57" y="770.60" width="5.05" height="10.10" fill="#C1B0D8" stroke="#000" stroke-width="1.7"/>
<rect x="539.57" y="780.70" width="5.05" height="17.50" fill="#FEFC98" stroke="#000" stroke-width="1.7"/>
<rect x="539.57" y="798.20" width="5.05" height="3.50" fill="#ACE1E8" stroke="#000" stroke-width="1.7"/>
<rect x="549.64" y="668.90" width="5.05" height="18.30" fill="#FDC896" stroke="#000" stroke-width="1.7"/>
<rect x="549.64" y="687.20" width="5.05" height="73.60" fill="#FAAFF5" stroke="#000" stroke-width="1.7"/>
<rect x="549.64" y="760.80" width="5.05" height="5.10" fill="#9CDDA0" stroke="#000" stroke-width="1.7"/>
<rect x="549.64" y="765.90" width="5.05" height="9.40" fill="#C1B0D8" stroke="#000" stroke-width="1.7"/>
<rect x="549.64" y="775.30" width="5.05" height="17.00" fill="#FEFC98" stroke="#000" stroke-width="1.7"/>
<rect x="549.64" y="792.30" width="5.05" height="2.80" fill="#ACE1E8" stroke="#000" stroke-width="1.7"/>
<rect x="559.71" y="668.90" width="5.05" height="16.70" fill="#FDC896" stroke="#000" stroke-width="1.7"/>
<rect x="559.71" y="685.60" width="5.05" height="65.40" fill="#FAAFF5" stroke="#000" stroke-width="1.7"/>
<rect x="559.71" y="751.00" width="5.05" height="5.10" fill="#9CDDA0" stroke="#000" stroke-width="1.7"/>
<rect x="559.71" y="756.10" width="5.05" height="8.20" fill="#C1B0D8" stroke="#000" stroke-width="1.7"/>
<rect x="559.71" y="764.30" width="5.05" height="15.20" fill="#FEFC98" stroke="#000" stroke-width="1.7"/>
<rect x="559.71" y="779.50" width="5.05" height="3.00" fill="#ACE1E8" stroke="#000" stroke-width="1.7"/>
<rect x="569.77" y="668.90" width="5.05" height="16.00" fill="#FDC896" stroke="#000" stroke-width="1.7"/>
<rect x="569.77" y="684.90" width="5.05" height="37.30" fill="#FAAFF5" stroke="#000" stroke-width="1.7"/>
<rect x="569.77" y="722.20" width="5.05" height="6.40" fill="#9CDDA0" stroke="#000" stroke-width="1.7"/>
<rect x="569.77" y="728.60" width="5.05" height="11.20" fill="#C1B0D8" stroke="#000" stroke-width="1.7"/>
<rect x="569.77" y="739.80" width="5.05" height="19.80" fill="#FEFC98" stroke="#000" stroke-width="1.7"/>
<rect x="569.77" y="759.60" width="5.05" height="3.50" fill="#ACE1E8" stroke="#000" stroke-width="1.7"/>
<rect x="579.84" y="668.90" width="5.05" height="10.10" fill="#FDC896" stroke="#000" stroke-width="1.7"/>
<rect x="579.84" y="679.00" width="5.05" height="28.50" fill="#FAAFF5" stroke="#000" stroke-width="1.7"/>
<rect x="579.84" y="707.50" width="5.05" height="3.80" fill="#9CDDA0" stroke="#000" stroke-width="1.7"/>
<rect x="579.84" y="711.30" width="5.05" height="7.40" fill="#C1B0D8" stroke="#000" stroke-width="1.7"/>
<rect x="579.84" y="718.70" width="5.05" height="12.90" fill="#FEFC98" stroke="#000" stroke-width="1.7"/>
<rect x="579.84" y="731.60" width="5.05" height="3.00" fill="#ACE1E8" stroke="#000" stroke-width="1.7"/>
<rect x="589.91" y="668.90" width="5.05" height="10.60" fill="#FDC896" stroke="#000" stroke-width="1.7"/>
<rect x="589.91" y="679.50" width="5.05" height="46.20" fill="#FAAFF5" stroke="#000" stroke-width="1.7"/>
<rect x="589.91" y="725.70" width="5.05" height="7.50" fill="#9CDDA0" stroke="#000" stroke-width="1.7"/>
<rect x="589.91" y="733.20" width="5.05" height="20.60" fill="#C1B0D8" stroke="#000" stroke-width="1.7"/>
<rect x="589.91" y="753.80" width="5.05" height="28.00" fill="#FEFC98" stroke="#000" stroke-width="1.7"/>
<rect x="589.91" y="781.80" width="5.05" height="5.90" fill="#ACE1E8" stroke="#000" stroke-width="1.7"/>
<rect x="599.98" y="668.90" width="5.05" height="10.60" fill="#FDC896" stroke="#000" stroke-width="1.7"/>
<rect x="599.98" y="679.50" width="5.05" height="43.40" fill="#FAAFF5" stroke="#000" stroke-width="1.7"/>
<rect x="599.98" y="722.90" width="5.05" height="7.10" fill="#9CDDA0" stroke="#000" stroke-width="1.7"/>
<rect x="599.98" y="730.00" width="5.05" height="19.60" fill="#C1B0D8" stroke="#000" stroke-width="1.7"/>
<rect x="599.98" y="749.60" width="5.05" height="26.40" fill="#FEFC98" stroke="#000" stroke-width="1.7"/>
<rect x="599.98" y="776.00" width="5.05" height="5.80" fill="#ACE1E8" stroke="#000" stroke-width="1.7"/>
<rect x="610.04" y="668.90" width="5.05" height="10.10" fill="#FDC896" stroke="#000" stroke-width="1.7"/>
<rect x="610.04" y="679.00" width="5.05" height="42.10" fill="#FAAFF5" stroke="#000" stroke-width="1.7"/>
<rect x="610.04" y="721.10" width="5.05" height="6.50" fill="#9CDDA0" stroke="#000" stroke-width="1.7"/>
<rect x="610.04" y="727.60" width="5.05" height="19.60" fill="#C1B0D8" stroke="#000" stroke-width="1.7"/>
<rect x="610.04" y="747.20" width="5.05" height="25.70" fill="#FEFC98" stroke="#000" stroke-width="1.7"/>
<rect x="610.04" y="772.90" width="5.05" height="5.40" fill="#ACE1E8" stroke="#000" stroke-width="1.7"/>
<rect x="620.11" y="668.90" width="5.05" height="3.10" fill="#FDC896" stroke="#000" stroke-width="1.7"/>
<rect x="620.11" y="672.00" width="5.05" height="25.20" fill="#FAAFF5" stroke="#000" stroke-width="1.7"/>
<rect x="620.11" y="697.20" width="5.05" height="3.30" fill="#9CDDA0" stroke="#000" stroke-width="1.7"/>
<rect x="620.11" y="700.50" width="5.05" height="8.40" fill="#C1B0D8" stroke="#000" stroke-width="1.7"/>
<rect x="620.11" y="708.90" width="5.05" height="14.00" fill="#FEFC98" stroke="#000" stroke-width="1.7"/>
<rect x="620.11" y="722.90" width="5.05" height="2.80" fill="#ACE1E8" stroke="#000" stroke-width="1.7"/>
<rect x="630.18" y="668.90" width="5.05" height="2.60" fill="#FDC896" stroke="#000" stroke-width="1.7"/>
<rect x="630.18" y="671.50" width="5.05" height="22.70" fill="#FAAFF5" stroke="#000" stroke-width="1.7"/>
<rect x="630.18" y="694.20" width="5.05" height="3.50" fill="#9CDDA0" stroke="#000" stroke-width="1.7"/>
<rect x="630.18" y="697.70" width="5.05" height="7.50" fill="#C1B0D8" stroke="#000" stroke-width="1.7"/>
<rect x="630.18" y="705.20" width="5.05" height="12.40" fill="#FEFC98" stroke="#000" stroke-width="1.7"/>
<rect x="630.18" y="717.60" width="5.05" height="2.30" fill="#ACE1E8" stroke="#000" stroke-width="1.7"/>
<rect x="640.25" y="668.90" width="5.05" height="2.60" fill="#FDC896" stroke="#000" stroke-width="1.7"/>
<rect x="640.25" y="671.50" width="5.05" height="22.70" fill="#FAAFF5" stroke="#000" stroke-width="1.7"/>
<rect x="640.25" y="694.20" width="5.05" height="3.00" fill="#9CDDA0" stroke="#000" stroke-width="1.7"/>
<rect x="640.25" y="697.20" width="5.05" height="7.10" fill="#C1B0D8" stroke="#000" stroke-width="1.7"/>
<rect x="640.25" y="704.30" width="5.05" height="12.60" fill="#FEFC98" stroke="#000" stroke-width="1.7"/>
<rect x="640.25" y="716.90" width="5.05" height="2.30" fill="#ACE1E8" stroke="#000" stroke-width="1.7"/>
<rect x="650.32" y="668.90" width="5.05" height="2.60" fill="#FDC896" stroke="#000" stroke-width="1.7"/>
<rect x="650.32" y="671.50" width="5.05" height="15.70" fill="#FAAFF5" stroke="#000" stroke-width="1.7"/>
<rect x="650.32" y="687.20" width="5.05" height="2.30" fill="#9CDDA0" stroke="#000" stroke-width="1.7"/>
<rect x="650.32" y="689.50" width="5.05" height="5.90" fill="#C1B0D8" stroke="#000" stroke-width="1.7"/>
<rect x="650.32" y="695.40" width="5.05" height="10.50" fill="#FEFC98" stroke="#000" stroke-width="1.7"/>
<rect x="650.32" y="705.90" width="5.05" height="1.90" fill="#ACE1E8" stroke="#000" stroke-width="1.7"/>
<rect x="660.38" y="668.90" width="5.05" height="1.90" fill="#FDC896" stroke="#000" stroke-width="1.7"/>
<rect x="660.38" y="670.80" width="5.05" height="8.70" fill="#FAAFF5" stroke="#000" stroke-width="1.7"/>
<rect x="660.38" y="679.50" width="5.05" height="1.90" fill="#9CDDA0" stroke="#000" stroke-width="1.7"/>
<rect x="660.38" y="681.40" width="5.05" height="4.60" fill="#C1B0D8" stroke="#000" stroke-width="1.7"/>
<rect x="660.38" y="686.00" width="5.05" height="5.90" fill="#FEFC98" stroke="#000" stroke-width="1.7"/>
<rect x="660.38" y="691.90" width="5.05" height="1.60" fill="#ACE1E8" stroke="#000" stroke-width="1.7"/>
<rect x="670.45" y="668.90" width="5.05" height="1.90" fill="#FDC896" stroke="#000" stroke-width="1.7"/>
<rect x="670.45" y="670.80" width="5.05" height="11.70" fill="#FAAFF5" stroke="#000" stroke-width="1.7"/>
<rect x="670.45" y="682.50" width="5.05" height="2.40" fill="#9CDDA0" stroke="#000" stroke-width="1.7"/>
<rect x="670.45" y="684.90" width="5.05" height="5.30" fill="#C1B0D8" stroke="#000" stroke-width="1.7"/>
<rect x="670.45" y="690.20" width="5.05" height="7.50" fill="#FEFC98" stroke="#000" stroke-width="1.7"/>
<rect x="670.45" y="697.70" width="5.05" height="2.30" fill="#ACE1E8" stroke="#000" stroke-width="1.7"/>
</g>
<rect x="84" y="449.6" width="594" height="191.10" fill="none" stroke="#000" stroke-width="1.8"/>
<rect x="84" y="668.9" width="594" height="191.60" fill="none" stroke="#000" stroke-width="1.8"/>
<line x1="74" y1="640.70" x2="84" y2="640.70" stroke="#000" stroke-width="1.6"/>
<text x="67.30" y="646.70" font-size="18" text-anchor="end" >0</text>
<line x1="74" y1="605.90" x2="84" y2="605.90" stroke="#000" stroke-width="1.6"/>
<text x="67.30" y="611.90" font-size="18" text-anchor="end" >200</text>
<line x1="74" y1="571.10" x2="84" y2="571.10" stroke="#000" stroke-width="1.6"/>
<text x="67.30" y="577.10" font-size="18" text-anchor="end" >400</text>
<line x1="74" y1="536.30" x2="84" y2="536.30" stroke="#000" stroke-width="1.6"/>
<text x="67.30" y="542.30" font-size="18" text-anchor="end" >600</text>
<line x1="74" y1="501.50" x2="84" y2="501.50" stroke="#000" stroke-width="1.6"/>
<text x="67.30" y="507.50" font-size="18" text-anchor="end" >800</text>
<line x1="74" y1="466.70" x2="84" y2="466.70" stroke="#000" stroke-width="1.6"/>
<text x="67.30" y="472.70" font-size="18" text-anchor="end" >1000</text>
<line x1="74" y1="668.90" x2="84" y2="668.90" stroke="#000" stroke-width="1.6"/>
<text x="67.30" y="674.90" font-size="18" text-anchor="end" >0</text>
<line x1="74" y1="713.90" x2="84" y2="713.90" stroke="#000" stroke-width="1.6"/>
<text x="67.30" y="719.90" font-size="18" text-anchor="end" >200</text>
<line x1="74" y1="758.90" x2="84" y2="758.90" stroke="#000" stroke-width="1.6"/>
<text x="67.30" y="764.90" font-size="18" text-anchor="end" >400</text>
<line x1="74" y1="803.90" x2="84" y2="803.90" stroke="#000" stroke-width="1.6"/>
<text x="67.30" y="809.90" font-size="18" text-anchor="end" >600</text>
<line x1="74" y1="848.90" x2="84" y2="848.90" stroke="#000" stroke-width="1.6"/>
<text x="67.30" y="854.90" font-size="18" text-anchor="end" >800</text>
<line x1="84" y1="555.72" x2="678" y2="555.72" stroke="#000" stroke-width="1.8" stroke-dasharray="8 2.6 2 2.6"/>
<line x1="84" y1="761.78" x2="678" y2="761.78" stroke="#000" stroke-width="1.8" stroke-dasharray="8 2.6 2 2.6"/>
<text x="269.1" y="547.8" font-size="15">488.38 mg·kg<tspan font-size="10.5" dx="1" dy="-6">-1</tspan></text>
<text x="324" y="790.9" font-size="15">412.79 mg·kg<tspan font-size="10.5" dx="1" dy="-6">-1</tspan></text>
<text transform="translate(92.63,647.2) rotate(-90)" font-size="12" text-anchor="end">S1</text>
<text transform="translate(102.70,647.2) rotate(-90)" font-size="12" text-anchor="end">S2</text>
<text transform="translate(112.77,647.2) rotate(-90)" font-size="12" text-anchor="end">S3</text>
<text transform="translate(122.84,647.2) rotate(-90)" font-size="12" text-anchor="end">S4</text>
<text transform="translate(132.91,647.2) rotate(-90)" font-size="12" text-anchor="end">S5</text>
<text transform="translate(142.97,647.2) rotate(-90)" font-size="12" text-anchor="end">S6</text>
<text transform="translate(153.04,647.2) rotate(-90)" font-size="12" text-anchor="end">S7</text>
<text transform="translate(163.11,647.2) rotate(-90)" font-size="12" text-anchor="end">S8</text>
<text transform="translate(173.18,647.2) rotate(-90)" font-size="12" text-anchor="end">S9</text>
<text transform="translate(183.25,647.2) rotate(-90)" font-size="12" text-anchor="end">S10</text>
<text transform="translate(193.31,647.2) rotate(-90)" font-size="12" text-anchor="end">S11</text>
<text transform="translate(203.38,647.2) rotate(-90)" font-size="12" text-anchor="end">S12</text>
<text transform="translate(213.45,647.2) rotate(-90)" font-size="12" text-anchor="end">S13</text>
<text transform="translate(223.52,647.2) rotate(-90)" font-size="12" text-anchor="end">S14</text>
<text transform="translate(233.59,647.2) rotate(-90)" font-size="12" text-anchor="end">S15</text>
<text transform="translate(243.65,647.2) rotate(-90)" font-size="12" text-anchor="end">S16</text>
<text transform="translate(253.72,647.2) rotate(-90)" font-size="12" text-anchor="end">S17</text>
<text transform="translate(263.79,647.2) rotate(-90)" font-size="12" text-anchor="end">S18</text>
<text transform="translate(273.86,647.2) rotate(-90)" font-size="12" text-anchor="end">S19</text>
<text transform="translate(283.93,647.2) rotate(-90)" font-size="12" text-anchor="end">S20</text>
<text transform="translate(293.99,647.2) rotate(-90)" font-size="12" text-anchor="end">S21</text>
<text transform="translate(304.06,647.2) rotate(-90)" font-size="12" text-anchor="end">S22</text>
<text transform="translate(314.13,647.2) rotate(-90)" font-size="12" text-anchor="end">S23</text>
<text transform="translate(324.20,647.2) rotate(-90)" font-size="12" text-anchor="end">S24</text>
<text transform="translate(334.27,647.2) rotate(-90)" font-size="12" text-anchor="end">S25</text>
<text transform="translate(344.33,647.2) rotate(-90)" font-size="12" text-anchor="end">S26</text>
<text transform="translate(354.40,647.2) rotate(-90)" font-size="12" text-anchor="end">S27</text>
<text transform="translate(364.47,647.2) rotate(-90)" font-size="12" text-anchor="end">S28</text>
<text transform="translate(374.54,647.2) rotate(-90)" font-size="12" text-anchor="end">S29</text>
<text transform="translate(384.61,647.2) rotate(-90)" font-size="12" text-anchor="end">S30</text>
<text transform="translate(394.67,647.2) rotate(-90)" font-size="12" text-anchor="end">S31</text>
<text transform="translate(404.74,647.2) rotate(-90)" font-size="12" text-anchor="end">S32</text>
<text transform="translate(414.81,647.2) rotate(-90)" font-size="12" text-anchor="end">S33</text>
<text transform="translate(424.88,647.2) rotate(-90)" font-size="12" text-anchor="end">S34</text>
<text transform="translate(434.95,647.2) rotate(-90)" font-size="12" text-anchor="end">S35</text>
<text transform="translate(445.01,647.2) rotate(-90)" font-size="12" text-anchor="end">S36</text>
<text transform="translate(455.08,647.2) rotate(-90)" font-size="12" text-anchor="end">S37</text>
<text transform="translate(465.15,647.2) rotate(-90)" font-size="12" text-anchor="end">S38</text>
<text transform="translate(475.22,647.2) rotate(-90)" font-size="12" text-anchor="end">S39</text>
<text transform="translate(485.29,647.2) rotate(-90)" font-size="12" text-anchor="end">S40</text>
<text transform="translate(495.35,647.2) rotate(-90)" font-size="12" text-anchor="end">S41</text>
<text transform="translate(505.42,647.2) rotate(-90)" font-size="12" text-anchor="end">S42</text>
<text transform="translate(515.49,647.2) rotate(-90)" font-size="12" text-anchor="end">S43</text>
<text transform="translate(525.56,647.2) rotate(-90)" font-size="12" text-anchor="end">S44</text>
<text transform="translate(535.63,647.2) rotate(-90)" font-size="12" text-anchor="end">S45</text>
<text transform="translate(545.69,647.2) rotate(-90)" font-size="12" text-anchor="end">S46</text>
<text transform="translate(555.76,647.2) rotate(-90)" font-size="12" text-anchor="end">S47</text>
<text transform="translate(565.83,647.2) rotate(-90)" font-size="12" text-anchor="end">S48</text>
<text transform="translate(575.90,647.2) rotate(-90)" font-size="12" text-anchor="end">S49</text>
<text transform="translate(585.97,647.2) rotate(-90)" font-size="12" text-anchor="end">S50</text>
<text transform="translate(596.03,647.2) rotate(-90)" font-size="12" text-anchor="end">S51</text>
<text transform="translate(606.10,647.2) rotate(-90)" font-size="12" text-anchor="end">S52</text>
<text transform="translate(616.17,647.2) rotate(-90)" font-size="12" text-anchor="end">S53</text>
<text transform="translate(626.24,647.2) rotate(-90)" font-size="12" text-anchor="end">S54</text>
<text transform="translate(636.31,647.2) rotate(-90)" font-size="12" text-anchor="end">S55</text>
<text transform="translate(646.37,647.2) rotate(-90)" font-size="12" text-anchor="end">S56</text>
<text transform="translate(656.44,647.2) rotate(-90)" font-size="12" text-anchor="end">S57</text>
<text transform="translate(666.51,647.2) rotate(-90)" font-size="12" text-anchor="end">S58</text>
<text transform="translate(676.58,647.2) rotate(-90)" font-size="12" text-anchor="end">S59</text>
<rect x="86.60" y="450.90" width="14.4" height="14.2" fill="#ACE1E8" stroke="#000" stroke-width="1.6"/>
<text x="107.10" y="463.10" font-size="15" text-anchor="start" >As</text>
<rect x="130.00" y="450.90" width="14.4" height="14.2" fill="#AFB28C" stroke="#000" stroke-width="1.6"/>
<text x="150.50" y="463.10" font-size="15" text-anchor="start" >Cd</text>
<rect x="173.40" y="450.90" width="14.4" height="14.2" fill="#96B9F0" stroke="#000" stroke-width="1.6"/>
<text x="193.90" y="463.10" font-size="15" text-anchor="start" >Hg</text>
<rect x="216.80" y="450.90" width="14.4" height="14.2" fill="#FEFC98" stroke="#000" stroke-width="1.6"/>
<text x="237.30" y="463.10" font-size="15" text-anchor="start" >Cr</text>
<rect x="86.60" y="470.10" width="14.4" height="14.2" fill="#C1B0D8" stroke="#000" stroke-width="1.6"/>
<text x="107.10" y="482.30" font-size="15" text-anchor="start" >Ni</text>
<rect x="130.00" y="470.10" width="14.4" height="14.2" fill="#9CDDA0" stroke="#000" stroke-width="1.6"/>
<text x="150.50" y="482.30" font-size="15" text-anchor="start" >Pb</text>
<rect x="173.40" y="470.10" width="14.4" height="14.2" fill="#FAAFF5" stroke="#000" stroke-width="1.6"/>
<text x="193.90" y="482.30" font-size="15" text-anchor="start" >Zn</text>
<rect x="216.80" y="470.10" width="14.4" height="14.2" fill="#FDC896" stroke="#000" stroke-width="1.6"/>
<text x="237.30" y="482.30" font-size="15" text-anchor="start" >Cu</text>
<line x1="108.8" y1="506.6" x2="166.6" y2="506.6" stroke="#000" stroke-width="1.8" stroke-dasharray="8 2.6 2 2.6"/>
<text x="182.00" y="511.00" font-size="18" text-anchor="start" >The mean value</text>
<text x="585.20" y="469.90" font-size="18" text-anchor="start" >Dry season</text>
<text x="587.50" y="843.70" font-size="18" text-anchor="start" >Wet season</text>
<text x="8.60" y="486.80" font-size="24" text-anchor="start" >(b)</text>
<text transform="translate(31.2,745) rotate(-90)" font-size="18">HM contents(mg·kg<tspan font-size="12.5" dy="-7">-1</tspan><tspan dy="7">)</tspan></text>
</svg>
</body></html>
